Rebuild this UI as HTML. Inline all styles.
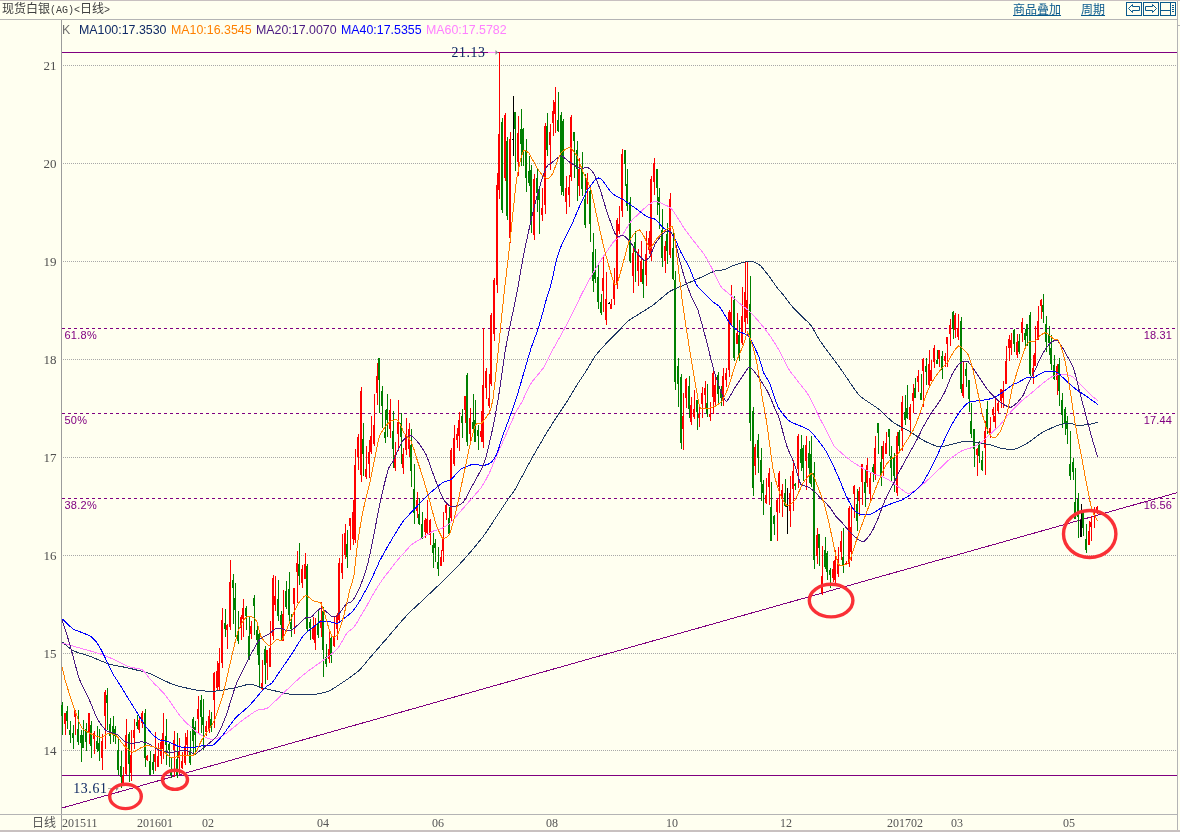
<!DOCTYPE html>
<html lang="zh"><head><meta charset="utf-8"><title>现货白银(AG) 日线</title>
<style>
html,body{margin:0;padding:0;background:#FFFFF0;}
body{width:1180px;height:832px;position:relative;overflow:hidden;font-family:"Liberation Sans","Noto Sans CJK SC",sans-serif;}
.t{position:absolute;white-space:nowrap;line-height:1;}
.title{left:2px;top:3px;font-size:12px;color:#404040;}
.title .m{font-family:"Liberation Mono",monospace;font-size:10px;}
.lnk{top:4px;font-size:12px;color:#0A5A8C;text-decoration:underline;}
.lg{top:24px;font-size:12.4px;}
</style></head><body>
<svg width="1180" height="832" viewBox="0 0 1180 832" style="position:absolute;left:0;top:0"><g shape-rendering="crispEdges"><rect x="0" y="0" width="1180" height="1" fill="#C8C0C0"/><rect x="0" y="19" width="1178" height="1" fill="#B4B4B4"/><rect x="1177" y="1" width="1" height="829" fill="#B4B4B4"/><rect x="1178" y="25" width="2" height="1" fill="#B4B4B4"/><rect x="61" y="20" width="1" height="810" fill="#9C9C9C"/><rect x="0" y="814" width="1178" height="1" fill="#B4B4B4"/><rect x="0" y="830" width="1180" height="2" fill="#C8C0C0"/><line x1="63" y1="750.5" x2="1177" y2="750.5" stroke="#A8A8A8" stroke-width="1" stroke-dasharray="1 1"/><line x1="63" y1="653.5" x2="1177" y2="653.5" stroke="#A8A8A8" stroke-width="1" stroke-dasharray="1 1"/><line x1="63" y1="555.5" x2="1177" y2="555.5" stroke="#A8A8A8" stroke-width="1" stroke-dasharray="1 1"/><line x1="63" y1="457.5" x2="1177" y2="457.5" stroke="#A8A8A8" stroke-width="1" stroke-dasharray="1 1"/><line x1="63" y1="359.5" x2="1177" y2="359.5" stroke="#A8A8A8" stroke-width="1" stroke-dasharray="1 1"/><line x1="63" y1="261.5" x2="1177" y2="261.5" stroke="#A8A8A8" stroke-width="1" stroke-dasharray="1 1"/><line x1="63" y1="163.5" x2="1177" y2="163.5" stroke="#A8A8A8" stroke-width="1" stroke-dasharray="1 1"/><line x1="63" y1="65.5" x2="1177" y2="65.5" stroke="#A8A8A8" stroke-width="1" stroke-dasharray="1 1"/><rect x="62" y="52" width="1115" height="1" fill="#800080"/><rect x="62" y="775" width="1115" height="1" fill="#800080"/><line x1="62" y1="328.5" x2="1177" y2="328.5" stroke="#800080" stroke-width="1" stroke-dasharray="3 3"/><line x1="62" y1="413.5" x2="1177" y2="413.5" stroke="#800080" stroke-width="1" stroke-dasharray="3 3"/><line x1="62" y1="498.5" x2="1177" y2="498.5" stroke="#800080" stroke-width="1" stroke-dasharray="3 3"/></g><line x1="62" y1="808" x2="1177" y2="492.7" stroke="#800080" stroke-width="1" shape-rendering="crispEdges"/><g shape-rendering="crispEdges"><rect x="62" y="702" width="1" height="33" fill="#008000"/>
<rect x="61" y="705" width="2" height="11" fill="#008000"/>
<rect x="65" y="713" width="1" height="22" fill="#FF0000"/>
<rect x="64" y="713" width="2" height="11" fill="#FF0000"/>
<rect x="67" y="706" width="1" height="23" fill="#008000"/>
<rect x="66" y="711" width="2" height="10" fill="#008000"/>
<rect x="70" y="721" width="1" height="22" fill="#008000"/>
<rect x="69" y="730" width="2" height="5" fill="#008000"/>
<rect x="73" y="725" width="1" height="24" fill="#008000"/>
<rect x="72" y="733" width="2" height="5" fill="#008000"/>
<rect x="75" y="710" width="1" height="25" fill="#FF0000"/>
<rect x="74" y="711" width="2" height="6" fill="#FF0000"/>
<rect x="78" y="710" width="1" height="35" fill="#008000"/>
<rect x="77" y="729" width="2" height="13" fill="#008000"/>
<rect x="81" y="730" width="1" height="32" fill="#008000"/>
<rect x="80" y="735" width="2" height="8" fill="#008000"/>
<rect x="83" y="720" width="1" height="28" fill="#008000"/>
<rect x="82" y="735" width="2" height="13" fill="#008000"/>
<rect x="86" y="723" width="1" height="28" fill="#008000"/>
<rect x="85" y="729" width="2" height="13" fill="#008000"/>
<rect x="89" y="713" width="1" height="31" fill="#FF0000"/>
<rect x="88" y="713" width="2" height="19" fill="#FF0000"/>
<rect x="91" y="721" width="1" height="37" fill="#008000"/>
<rect x="90" y="725" width="2" height="21" fill="#008000"/>
<rect x="94" y="731" width="1" height="23" fill="#FF0000"/>
<rect x="93" y="733" width="2" height="6" fill="#FF0000"/>
<rect x="97" y="726" width="1" height="26" fill="#008000"/>
<rect x="96" y="741" width="2" height="8" fill="#008000"/>
<rect x="99" y="729" width="1" height="32" fill="#008000"/>
<rect x="98" y="743" width="2" height="8" fill="#008000"/>
<rect x="102" y="734" width="1" height="36" fill="#FF0000"/>
<rect x="101" y="741" width="2" height="17" fill="#FF0000"/>
<rect x="105" y="690" width="1" height="59" fill="#FF0000"/>
<rect x="104" y="692" width="2" height="24" fill="#FF0000"/>
<rect x="107" y="688" width="1" height="42" fill="#008000"/>
<rect x="106" y="695" width="2" height="8" fill="#008000"/>
<rect x="110" y="718" width="1" height="26" fill="#008000"/>
<rect x="109" y="724" width="2" height="12" fill="#008000"/>
<rect x="113" y="716" width="1" height="26" fill="#008000"/>
<rect x="112" y="726" width="2" height="9" fill="#008000"/>
<rect x="115" y="726" width="1" height="18" fill="#008000"/>
<rect x="114" y="729" width="2" height="7" fill="#008000"/>
<rect x="118" y="738" width="1" height="37" fill="#008000"/>
<rect x="117" y="750" width="2" height="20" fill="#008000"/>
<rect x="121" y="751" width="1" height="37" fill="#008000"/>
<rect x="120" y="766" width="2" height="11" fill="#008000"/>
<rect x="123" y="767" width="1" height="17" fill="#FF0000"/>
<rect x="122" y="776" width="2" height="7" fill="#FF0000"/>
<rect x="126" y="719" width="1" height="56" fill="#FF0000"/>
<rect x="125" y="735" width="2" height="39" fill="#FF0000"/>
<rect x="129" y="732" width="1" height="50" fill="#008000"/>
<rect x="128" y="734" width="2" height="30" fill="#008000"/>
<rect x="131" y="730" width="1" height="51" fill="#FF0000"/>
<rect x="130" y="755" width="2" height="18" fill="#FF0000"/>
<rect x="134" y="719" width="1" height="30" fill="#FF0000"/>
<rect x="133" y="730" width="2" height="8" fill="#FF0000"/>
<rect x="137" y="715" width="1" height="14" fill="#008000"/>
<rect x="136" y="722" width="2" height="4" fill="#008000"/>
<rect x="139" y="716" width="1" height="17" fill="#FF0000"/>
<rect x="138" y="720" width="2" height="10" fill="#FF0000"/>
<rect x="142" y="711" width="1" height="17" fill="#FF0000"/>
<rect x="141" y="713" width="2" height="10" fill="#FF0000"/>
<rect x="145" y="709" width="1" height="58" fill="#008000"/>
<rect x="144" y="713" width="2" height="45" fill="#008000"/>
<rect x="147" y="755" width="1" height="6" fill="#FF0000"/>
<rect x="146" y="756" width="2" height="4" fill="#FF0000"/>
<rect x="150" y="751" width="1" height="24" fill="#008000"/>
<rect x="149" y="761" width="2" height="14" fill="#008000"/>
<rect x="153" y="754" width="1" height="20" fill="#008000"/>
<rect x="152" y="762" width="2" height="8" fill="#008000"/>
<rect x="155" y="732" width="1" height="39" fill="#FF0000"/>
<rect x="154" y="754" width="2" height="8" fill="#FF0000"/>
<rect x="158" y="743" width="1" height="24" fill="#FF0000"/>
<rect x="157" y="756" width="2" height="11" fill="#FF0000"/>
<rect x="161" y="739" width="1" height="25" fill="#FF0000"/>
<rect x="160" y="742" width="2" height="14" fill="#FF0000"/>
<rect x="163" y="713" width="1" height="46" fill="#FF0000"/>
<rect x="162" y="733" width="2" height="16" fill="#FF0000"/>
<rect x="166" y="719" width="1" height="46" fill="#008000"/>
<rect x="165" y="736" width="2" height="9" fill="#008000"/>
<rect x="169" y="742" width="1" height="25" fill="#008000"/>
<rect x="168" y="744" width="2" height="6" fill="#008000"/>
<rect x="171" y="758" width="1" height="20" fill="#008000"/>
<rect x="170" y="770" width="2" height="5" fill="#008000"/>
<rect x="174" y="731" width="1" height="46" fill="#FF0000"/>
<rect x="173" y="740" width="2" height="10" fill="#FF0000"/>
<rect x="177" y="733" width="1" height="45" fill="#008000"/>
<rect x="176" y="759" width="2" height="16" fill="#008000"/>
<rect x="179" y="738" width="1" height="36" fill="#FF0000"/>
<rect x="178" y="751" width="2" height="7" fill="#FF0000"/>
<rect x="182" y="752" width="1" height="17" fill="#FF0000"/>
<rect x="181" y="761" width="2" height="7" fill="#FF0000"/>
<rect x="185" y="733" width="1" height="32" fill="#FF0000"/>
<rect x="184" y="746" width="2" height="17" fill="#FF0000"/>
<rect x="187" y="730" width="1" height="25" fill="#FF0000"/>
<rect x="186" y="737" width="2" height="8" fill="#FF0000"/>
<rect x="190" y="731" width="1" height="34" fill="#008000"/>
<rect x="189" y="751" width="2" height="12" fill="#008000"/>
<rect x="193" y="717" width="1" height="36" fill="#008000"/>
<rect x="192" y="719" width="2" height="22" fill="#008000"/>
<rect x="195" y="721" width="1" height="34" fill="#008000"/>
<rect x="194" y="727" width="2" height="8" fill="#008000"/>
<rect x="198" y="696" width="1" height="37" fill="#FF0000"/>
<rect x="197" y="709" width="2" height="10" fill="#FF0000"/>
<rect x="201" y="695" width="1" height="38" fill="#008000"/>
<rect x="200" y="700" width="2" height="17" fill="#008000"/>
<rect x="203" y="699" width="1" height="51" fill="#008000"/>
<rect x="202" y="717" width="2" height="8" fill="#008000"/>
<rect x="206" y="721" width="1" height="15" fill="#FF0000"/>
<rect x="205" y="726" width="2" height="6" fill="#FF0000"/>
<rect x="209" y="710" width="1" height="23" fill="#FF0000"/>
<rect x="208" y="716" width="2" height="15" fill="#FF0000"/>
<rect x="211" y="712" width="1" height="20" fill="#008000"/>
<rect x="210" y="719" width="2" height="9" fill="#008000"/>
<rect x="214" y="672" width="1" height="56" fill="#FF0000"/>
<rect x="213" y="673" width="2" height="27" fill="#FF0000"/>
<rect x="217" y="661" width="1" height="29" fill="#FF0000"/>
<rect x="216" y="671" width="2" height="17" fill="#FF0000"/>
<rect x="219" y="648" width="1" height="42" fill="#FF0000"/>
<rect x="218" y="663" width="2" height="24" fill="#FF0000"/>
<rect x="222" y="608" width="1" height="60" fill="#FF0000"/>
<rect x="221" y="620" width="2" height="43" fill="#FF0000"/>
<rect x="225" y="609" width="1" height="28" fill="#008000"/>
<rect x="224" y="623" width="2" height="6" fill="#008000"/>
<rect x="227" y="624" width="1" height="25" fill="#FF0000"/>
<rect x="226" y="625" width="2" height="5" fill="#FF0000"/>
<rect x="230" y="560" width="1" height="70" fill="#FF0000"/>
<rect x="229" y="582" width="2" height="45" fill="#FF0000"/>
<rect x="233" y="574" width="1" height="50" fill="#008000"/>
<rect x="232" y="580" width="2" height="8" fill="#008000"/>
<rect x="235" y="583" width="1" height="54" fill="#008000"/>
<rect x="234" y="598" width="2" height="12" fill="#008000"/>
<rect x="238" y="611" width="1" height="33" fill="#008000"/>
<rect x="237" y="635" width="2" height="6" fill="#008000"/>
<rect x="241" y="615" width="1" height="25" fill="#FF0000"/>
<rect x="240" y="617" width="2" height="11" fill="#FF0000"/>
<rect x="243" y="599" width="1" height="38" fill="#FF0000"/>
<rect x="242" y="608" width="2" height="11" fill="#FF0000"/>
<rect x="246" y="606" width="1" height="24" fill="#008000"/>
<rect x="245" y="608" width="2" height="8" fill="#008000"/>
<rect x="249" y="617" width="1" height="43" fill="#008000"/>
<rect x="248" y="636" width="2" height="24" fill="#008000"/>
<rect x="251" y="621" width="1" height="18" fill="#FF0000"/>
<rect x="250" y="626" width="2" height="8" fill="#FF0000"/>
<rect x="254" y="595" width="1" height="40" fill="#008000"/>
<rect x="253" y="598" width="2" height="8" fill="#008000"/>
<rect x="257" y="625" width="1" height="30" fill="#008000"/>
<rect x="256" y="630" width="2" height="10" fill="#008000"/>
<rect x="259" y="630" width="1" height="57" fill="#008000"/>
<rect x="258" y="634" width="2" height="31" fill="#008000"/>
<rect x="262" y="660" width="1" height="30" fill="#FF0000"/>
<rect x="261" y="683" width="2" height="6" fill="#FF0000"/>
<rect x="265" y="646" width="1" height="38" fill="#008000"/>
<rect x="264" y="649" width="2" height="16" fill="#008000"/>
<rect x="267" y="650" width="1" height="30" fill="#FF0000"/>
<rect x="266" y="650" width="2" height="13" fill="#FF0000"/>
<rect x="270" y="621" width="1" height="46" fill="#FF0000"/>
<rect x="269" y="648" width="2" height="19" fill="#FF0000"/>
<rect x="273" y="575" width="1" height="65" fill="#FF0000"/>
<rect x="272" y="578" width="2" height="58" fill="#FF0000"/>
<rect x="275" y="576" width="1" height="35" fill="#FF0000"/>
<rect x="274" y="596" width="2" height="9" fill="#FF0000"/>
<rect x="278" y="580" width="1" height="41" fill="#008000"/>
<rect x="277" y="599" width="2" height="17" fill="#008000"/>
<rect x="281" y="611" width="1" height="29" fill="#008000"/>
<rect x="280" y="615" width="2" height="10" fill="#008000"/>
<rect x="283" y="590" width="1" height="51" fill="#FF0000"/>
<rect x="282" y="614" width="2" height="27" fill="#FF0000"/>
<rect x="286" y="581" width="1" height="28" fill="#008000"/>
<rect x="285" y="591" width="2" height="16" fill="#008000"/>
<rect x="289" y="572" width="1" height="49" fill="#008000"/>
<rect x="288" y="589" width="2" height="26" fill="#008000"/>
<rect x="291" y="614" width="1" height="23" fill="#008000"/>
<rect x="290" y="622" width="2" height="7" fill="#008000"/>
<rect x="294" y="588" width="1" height="46" fill="#FF0000"/>
<rect x="293" y="588" width="2" height="16" fill="#FF0000"/>
<rect x="297" y="551" width="1" height="52" fill="#FF0000"/>
<rect x="296" y="563" width="2" height="9" fill="#FF0000"/>
<rect x="299" y="543" width="1" height="42" fill="#008000"/>
<rect x="298" y="564" width="2" height="12" fill="#008000"/>
<rect x="302" y="565" width="1" height="23" fill="#FF0000"/>
<rect x="301" y="569" width="2" height="14" fill="#FF0000"/>
<rect x="305" y="553" width="1" height="26" fill="#FF0000"/>
<rect x="304" y="564" width="2" height="15" fill="#FF0000"/>
<rect x="307" y="564" width="1" height="67" fill="#008000"/>
<rect x="306" y="566" width="2" height="63" fill="#008000"/>
<rect x="310" y="619" width="1" height="21" fill="#008000"/>
<rect x="309" y="622" width="2" height="6" fill="#008000"/>
<rect x="313" y="617" width="1" height="23" fill="#FF0000"/>
<rect x="312" y="628" width="2" height="11" fill="#FF0000"/>
<rect x="315" y="618" width="1" height="32" fill="#FF0000"/>
<rect x="314" y="625" width="2" height="18" fill="#FF0000"/>
<rect x="318" y="611" width="1" height="27" fill="#008000"/>
<rect x="317" y="623" width="2" height="12" fill="#008000"/>
<rect x="321" y="602" width="1" height="35" fill="#FF0000"/>
<rect x="320" y="620" width="2" height="8" fill="#FF0000"/>
<rect x="323" y="607" width="1" height="70" fill="#008000"/>
<rect x="322" y="611" width="2" height="39" fill="#008000"/>
<rect x="326" y="644" width="1" height="23" fill="#008000"/>
<rect x="325" y="657" width="2" height="7" fill="#008000"/>
<rect x="329" y="632" width="1" height="31" fill="#FF0000"/>
<rect x="328" y="649" width="2" height="10" fill="#FF0000"/>
<rect x="331" y="634" width="1" height="29" fill="#008000"/>
<rect x="330" y="638" width="2" height="18" fill="#008000"/>
<rect x="334" y="617" width="1" height="30" fill="#FF0000"/>
<rect x="333" y="636" width="2" height="10" fill="#FF0000"/>
<rect x="337" y="613" width="1" height="27" fill="#FF0000"/>
<rect x="336" y="615" width="2" height="14" fill="#FF0000"/>
<rect x="339" y="558" width="1" height="63" fill="#FF0000"/>
<rect x="338" y="563" width="2" height="57" fill="#FF0000"/>
<rect x="342" y="534" width="1" height="45" fill="#FF0000"/>
<rect x="341" y="563" width="2" height="10" fill="#FF0000"/>
<rect x="345" y="524" width="1" height="35" fill="#FF0000"/>
<rect x="344" y="533" width="2" height="22" fill="#FF0000"/>
<rect x="347" y="530" width="1" height="38" fill="#008000"/>
<rect x="346" y="544" width="2" height="13" fill="#008000"/>
<rect x="350" y="518" width="1" height="32" fill="#FF0000"/>
<rect x="349" y="518" width="2" height="8" fill="#FF0000"/>
<rect x="353" y="500" width="1" height="45" fill="#FF0000"/>
<rect x="352" y="512" width="2" height="27" fill="#FF0000"/>
<rect x="355" y="449" width="1" height="94" fill="#FF0000"/>
<rect x="354" y="465" width="2" height="75" fill="#FF0000"/>
<rect x="358" y="434" width="1" height="36" fill="#FF0000"/>
<rect x="357" y="437" width="2" height="20" fill="#FF0000"/>
<rect x="361" y="387" width="1" height="95" fill="#FF0000"/>
<rect x="360" y="391" width="2" height="84" fill="#FF0000"/>
<rect x="363" y="423" width="1" height="53" fill="#008000"/>
<rect x="362" y="439" width="2" height="15" fill="#008000"/>
<rect x="366" y="446" width="1" height="33" fill="#FF0000"/>
<rect x="365" y="469" width="2" height="8" fill="#FF0000"/>
<rect x="369" y="440" width="1" height="38" fill="#FF0000"/>
<rect x="368" y="452" width="2" height="12" fill="#FF0000"/>
<rect x="371" y="416" width="1" height="38" fill="#FF0000"/>
<rect x="370" y="436" width="2" height="16" fill="#FF0000"/>
<rect x="374" y="394" width="1" height="52" fill="#FF0000"/>
<rect x="373" y="425" width="2" height="19" fill="#FF0000"/>
<rect x="377" y="363" width="1" height="42" fill="#FF0000"/>
<rect x="376" y="376" width="2" height="17" fill="#FF0000"/>
<rect x="379" y="358" width="1" height="55" fill="#008000"/>
<rect x="378" y="358" width="2" height="22" fill="#008000"/>
<rect x="382" y="386" width="1" height="42" fill="#008000"/>
<rect x="381" y="391" width="2" height="15" fill="#008000"/>
<rect x="385" y="410" width="1" height="33" fill="#008000"/>
<rect x="384" y="432" width="2" height="6" fill="#008000"/>
<rect x="387" y="394" width="1" height="43" fill="#008000"/>
<rect x="386" y="409" width="2" height="11" fill="#008000"/>
<rect x="390" y="399" width="1" height="39" fill="#FF0000"/>
<rect x="389" y="410" width="2" height="19" fill="#FF0000"/>
<rect x="393" y="411" width="1" height="57" fill="#008000"/>
<rect x="392" y="431" width="2" height="18" fill="#008000"/>
<rect x="395" y="442" width="1" height="29" fill="#FF0000"/>
<rect x="394" y="455" width="2" height="13" fill="#FF0000"/>
<rect x="398" y="400" width="1" height="51" fill="#FF0000"/>
<rect x="397" y="422" width="2" height="12" fill="#FF0000"/>
<rect x="401" y="413" width="1" height="51" fill="#008000"/>
<rect x="400" y="423" width="2" height="14" fill="#008000"/>
<rect x="403" y="448" width="1" height="26" fill="#FF0000"/>
<rect x="402" y="454" width="2" height="14" fill="#FF0000"/>
<rect x="406" y="418" width="1" height="37" fill="#FF0000"/>
<rect x="405" y="434" width="2" height="16" fill="#FF0000"/>
<rect x="409" y="423" width="1" height="34" fill="#FF0000"/>
<rect x="408" y="429" width="2" height="20" fill="#FF0000"/>
<rect x="411" y="429" width="1" height="58" fill="#008000"/>
<rect x="410" y="445" width="2" height="26" fill="#008000"/>
<rect x="414" y="464" width="1" height="60" fill="#008000"/>
<rect x="413" y="489" width="2" height="24" fill="#008000"/>
<rect x="417" y="492" width="1" height="26" fill="#FF0000"/>
<rect x="416" y="500" width="2" height="11" fill="#FF0000"/>
<rect x="419" y="498" width="1" height="27" fill="#008000"/>
<rect x="418" y="514" width="2" height="10" fill="#008000"/>
<rect x="422" y="512" width="1" height="27" fill="#008000"/>
<rect x="421" y="524" width="2" height="14" fill="#008000"/>
<rect x="425" y="518" width="1" height="20" fill="#FF0000"/>
<rect x="424" y="520" width="2" height="12" fill="#FF0000"/>
<rect x="427" y="500" width="1" height="34" fill="#FF0000"/>
<rect x="426" y="519" width="2" height="14" fill="#FF0000"/>
<rect x="430" y="519" width="1" height="26" fill="#FF0000"/>
<rect x="429" y="520" width="2" height="15" fill="#FF0000"/>
<rect x="433" y="533" width="1" height="35" fill="#008000"/>
<rect x="432" y="545" width="2" height="8" fill="#008000"/>
<rect x="435" y="539" width="1" height="23" fill="#008000"/>
<rect x="434" y="543" width="2" height="5" fill="#008000"/>
<rect x="438" y="547" width="1" height="29" fill="#008000"/>
<rect x="437" y="562" width="2" height="7" fill="#008000"/>
<rect x="441" y="550" width="1" height="16" fill="#FF0000"/>
<rect x="440" y="557" width="2" height="9" fill="#FF0000"/>
<rect x="443" y="512" width="1" height="50" fill="#FF0000"/>
<rect x="442" y="539" width="2" height="12" fill="#FF0000"/>
<rect x="446" y="504" width="1" height="16" fill="#FF0000"/>
<rect x="445" y="505" width="2" height="8" fill="#FF0000"/>
<rect x="449" y="507" width="1" height="27" fill="#008000"/>
<rect x="448" y="518" width="2" height="16" fill="#008000"/>
<rect x="451" y="448" width="1" height="73" fill="#FF0000"/>
<rect x="450" y="450" width="2" height="68" fill="#FF0000"/>
<rect x="454" y="425" width="1" height="41" fill="#FF0000"/>
<rect x="453" y="438" width="2" height="26" fill="#FF0000"/>
<rect x="457" y="428" width="1" height="20" fill="#FF0000"/>
<rect x="456" y="434" width="2" height="6" fill="#FF0000"/>
<rect x="459" y="412" width="1" height="39" fill="#FF0000"/>
<rect x="458" y="420" width="2" height="16" fill="#FF0000"/>
<rect x="462" y="409" width="1" height="29" fill="#008000"/>
<rect x="461" y="416" width="2" height="7" fill="#008000"/>
<rect x="465" y="396" width="1" height="27" fill="#FF0000"/>
<rect x="464" y="396" width="2" height="14" fill="#FF0000"/>
<rect x="467" y="373" width="1" height="73" fill="#008000"/>
<rect x="466" y="375" width="2" height="67" fill="#008000"/>
<rect x="470" y="408" width="1" height="35" fill="#FF0000"/>
<rect x="469" y="418" width="2" height="16" fill="#FF0000"/>
<rect x="473" y="394" width="1" height="35" fill="#008000"/>
<rect x="472" y="422" width="2" height="7" fill="#008000"/>
<rect x="475" y="400" width="1" height="42" fill="#008000"/>
<rect x="474" y="420" width="2" height="22" fill="#008000"/>
<rect x="478" y="425" width="1" height="25" fill="#008000"/>
<rect x="477" y="430" width="2" height="6" fill="#008000"/>
<rect x="481" y="411" width="1" height="31" fill="#FF0000"/>
<rect x="480" y="431" width="2" height="6" fill="#FF0000"/>
<rect x="483" y="328" width="1" height="120" fill="#FF0000"/>
<rect x="482" y="385" width="2" height="57" fill="#FF0000"/>
<rect x="486" y="368" width="1" height="31" fill="#FF0000"/>
<rect x="485" y="371" width="2" height="17" fill="#FF0000"/>
<rect x="489" y="374" width="1" height="34" fill="#FF0000"/>
<rect x="488" y="398" width="2" height="8" fill="#FF0000"/>
<rect x="491" y="313" width="1" height="73" fill="#FF0000"/>
<rect x="490" y="315" width="2" height="69" fill="#FF0000"/>
<rect x="494" y="278" width="1" height="63" fill="#FF0000"/>
<rect x="493" y="280" width="2" height="54" fill="#FF0000"/>
<rect x="497" y="173" width="1" height="120" fill="#FF0000"/>
<rect x="496" y="185" width="2" height="100" fill="#FF0000"/>
<rect x="499" y="52" width="1" height="147" fill="#FF0000"/>
<rect x="498" y="134" width="2" height="56" fill="#FF0000"/>
<rect x="502" y="118" width="1" height="95" fill="#008000"/>
<rect x="501" y="122" width="2" height="88" fill="#008000"/>
<rect x="505" y="113" width="1" height="68" fill="#FF0000"/>
<rect x="504" y="115" width="2" height="63" fill="#FF0000"/>
<rect x="507" y="137" width="1" height="83" fill="#008000"/>
<rect x="506" y="141" width="2" height="75" fill="#008000"/>
<rect x="510" y="132" width="1" height="111" fill="#FF0000"/>
<rect x="509" y="139" width="2" height="99" fill="#FF0000"/>
<rect x="513" y="96" width="1" height="60" fill="#000000"/>
<rect x="512" y="139" width="2" height="1" fill="#000000"/>
<rect x="515" y="112" width="1" height="59" fill="#008000"/>
<rect x="514" y="112" width="2" height="17" fill="#008000"/>
<rect x="518" y="116" width="1" height="60" fill="#FF0000"/>
<rect x="517" y="133" width="2" height="29" fill="#FF0000"/>
<rect x="521" y="109" width="1" height="57" fill="#008000"/>
<rect x="520" y="129" width="2" height="15" fill="#008000"/>
<rect x="523" y="128" width="1" height="38" fill="#008000"/>
<rect x="522" y="129" width="2" height="23" fill="#008000"/>
<rect x="526" y="139" width="1" height="53" fill="#008000"/>
<rect x="525" y="150" width="2" height="28" fill="#008000"/>
<rect x="529" y="156" width="1" height="30" fill="#008000"/>
<rect x="528" y="171" width="2" height="12" fill="#008000"/>
<rect x="531" y="165" width="1" height="68" fill="#008000"/>
<rect x="530" y="170" width="2" height="55" fill="#008000"/>
<rect x="534" y="174" width="1" height="66" fill="#FF0000"/>
<rect x="533" y="179" width="2" height="56" fill="#FF0000"/>
<rect x="537" y="168" width="1" height="44" fill="#008000"/>
<rect x="536" y="178" width="2" height="15" fill="#008000"/>
<rect x="539" y="186" width="1" height="48" fill="#008000"/>
<rect x="538" y="191" width="2" height="9" fill="#008000"/>
<rect x="542" y="188" width="1" height="33" fill="#FF0000"/>
<rect x="541" y="208" width="2" height="7" fill="#FF0000"/>
<rect x="545" y="123" width="1" height="91" fill="#FF0000"/>
<rect x="544" y="126" width="2" height="79" fill="#FF0000"/>
<rect x="547" y="113" width="1" height="43" fill="#008000"/>
<rect x="546" y="126" width="2" height="24" fill="#008000"/>
<rect x="550" y="124" width="1" height="46" fill="#FF0000"/>
<rect x="549" y="132" width="2" height="13" fill="#FF0000"/>
<rect x="553" y="100" width="1" height="36" fill="#FF0000"/>
<rect x="552" y="111" width="2" height="12" fill="#FF0000"/>
<rect x="555" y="87" width="1" height="46" fill="#FF0000"/>
<rect x="554" y="102" width="2" height="12" fill="#FF0000"/>
<rect x="558" y="92" width="1" height="40" fill="#008000"/>
<rect x="557" y="120" width="2" height="11" fill="#008000"/>
<rect x="561" y="112" width="1" height="83" fill="#008000"/>
<rect x="560" y="115" width="2" height="71" fill="#008000"/>
<rect x="563" y="119" width="1" height="77" fill="#008000"/>
<rect x="562" y="121" width="2" height="71" fill="#008000"/>
<rect x="566" y="176" width="1" height="38" fill="#FF0000"/>
<rect x="565" y="188" width="2" height="14" fill="#FF0000"/>
<rect x="569" y="175" width="1" height="32" fill="#FF0000"/>
<rect x="568" y="187" width="2" height="8" fill="#FF0000"/>
<rect x="571" y="115" width="1" height="66" fill="#FF0000"/>
<rect x="570" y="117" width="2" height="60" fill="#FF0000"/>
<rect x="574" y="132" width="1" height="46" fill="#008000"/>
<rect x="573" y="132" width="2" height="9" fill="#008000"/>
<rect x="577" y="141" width="1" height="60" fill="#008000"/>
<rect x="576" y="150" width="2" height="19" fill="#008000"/>
<rect x="579" y="158" width="1" height="38" fill="#FF0000"/>
<rect x="578" y="169" width="2" height="17" fill="#FF0000"/>
<rect x="582" y="152" width="1" height="44" fill="#008000"/>
<rect x="581" y="166" width="2" height="23" fill="#008000"/>
<rect x="585" y="174" width="1" height="54" fill="#008000"/>
<rect x="584" y="199" width="2" height="26" fill="#008000"/>
<rect x="587" y="173" width="1" height="31" fill="#FF0000"/>
<rect x="586" y="179" width="2" height="11" fill="#FF0000"/>
<rect x="590" y="188" width="1" height="54" fill="#008000"/>
<rect x="589" y="191" width="2" height="33" fill="#008000"/>
<rect x="593" y="233" width="1" height="59" fill="#008000"/>
<rect x="592" y="252" width="2" height="29" fill="#008000"/>
<rect x="595" y="249" width="1" height="34" fill="#008000"/>
<rect x="594" y="272" width="2" height="7" fill="#008000"/>
<rect x="598" y="265" width="1" height="44" fill="#008000"/>
<rect x="597" y="277" width="2" height="25" fill="#008000"/>
<rect x="601" y="294" width="1" height="21" fill="#008000"/>
<rect x="600" y="302" width="2" height="11" fill="#008000"/>
<rect x="603" y="255" width="1" height="57" fill="#FF0000"/>
<rect x="602" y="278" width="2" height="13" fill="#FF0000"/>
<rect x="606" y="272" width="1" height="53" fill="#FF0000"/>
<rect x="605" y="299" width="2" height="21" fill="#FF0000"/>
<rect x="609" y="302" width="1" height="2" fill="#000000"/>
<rect x="608" y="303" width="2" height="1" fill="#000000"/>
<rect x="611" y="299" width="1" height="10" fill="#FF0000"/>
<rect x="610" y="304" width="2" height="5" fill="#FF0000"/>
<rect x="614" y="268" width="1" height="37" fill="#FF0000"/>
<rect x="613" y="281" width="2" height="18" fill="#FF0000"/>
<rect x="617" y="218" width="1" height="71" fill="#FF0000"/>
<rect x="616" y="220" width="2" height="65" fill="#FF0000"/>
<rect x="619" y="206" width="1" height="28" fill="#FF0000"/>
<rect x="618" y="224" width="2" height="7" fill="#FF0000"/>
<rect x="622" y="149" width="1" height="68" fill="#FF0000"/>
<rect x="621" y="154" width="2" height="57" fill="#FF0000"/>
<rect x="625" y="150" width="1" height="36" fill="#008000"/>
<rect x="624" y="150" width="2" height="14" fill="#008000"/>
<rect x="627" y="169" width="1" height="42" fill="#008000"/>
<rect x="626" y="184" width="2" height="22" fill="#008000"/>
<rect x="630" y="197" width="1" height="66" fill="#008000"/>
<rect x="629" y="202" width="2" height="59" fill="#008000"/>
<rect x="633" y="248" width="1" height="45" fill="#FF0000"/>
<rect x="632" y="253" width="2" height="23" fill="#FF0000"/>
<rect x="635" y="231" width="1" height="51" fill="#008000"/>
<rect x="634" y="242" width="2" height="10" fill="#008000"/>
<rect x="638" y="249" width="1" height="37" fill="#FF0000"/>
<rect x="637" y="252" width="2" height="19" fill="#FF0000"/>
<rect x="641" y="241" width="1" height="41" fill="#FF0000"/>
<rect x="640" y="261" width="2" height="21" fill="#FF0000"/>
<rect x="643" y="260" width="1" height="38" fill="#008000"/>
<rect x="642" y="269" width="2" height="15" fill="#008000"/>
<rect x="646" y="231" width="1" height="55" fill="#FF0000"/>
<rect x="645" y="254" width="2" height="21" fill="#FF0000"/>
<rect x="649" y="231" width="1" height="23" fill="#FF0000"/>
<rect x="648" y="238" width="2" height="12" fill="#FF0000"/>
<rect x="651" y="176" width="1" height="85" fill="#FF0000"/>
<rect x="650" y="179" width="2" height="78" fill="#FF0000"/>
<rect x="654" y="158" width="1" height="37" fill="#FF0000"/>
<rect x="653" y="163" width="2" height="19" fill="#FF0000"/>
<rect x="657" y="169" width="1" height="46" fill="#008000"/>
<rect x="656" y="169" width="2" height="19" fill="#008000"/>
<rect x="659" y="188" width="1" height="41" fill="#008000"/>
<rect x="658" y="197" width="2" height="8" fill="#008000"/>
<rect x="662" y="209" width="1" height="58" fill="#008000"/>
<rect x="661" y="230" width="2" height="28" fill="#008000"/>
<rect x="665" y="241" width="1" height="32" fill="#FF0000"/>
<rect x="664" y="246" width="2" height="15" fill="#FF0000"/>
<rect x="667" y="223" width="1" height="41" fill="#008000"/>
<rect x="666" y="234" width="2" height="17" fill="#008000"/>
<rect x="670" y="193" width="1" height="65" fill="#FF0000"/>
<rect x="669" y="199" width="2" height="56" fill="#FF0000"/>
<rect x="673" y="229" width="1" height="51" fill="#008000"/>
<rect x="672" y="248" width="2" height="31" fill="#008000"/>
<rect x="675" y="271" width="1" height="119" fill="#008000"/>
<rect x="674" y="280" width="2" height="102" fill="#008000"/>
<rect x="678" y="358" width="1" height="49" fill="#008000"/>
<rect x="677" y="366" width="2" height="18" fill="#008000"/>
<rect x="681" y="374" width="1" height="75" fill="#008000"/>
<rect x="680" y="377" width="2" height="66" fill="#008000"/>
<rect x="683" y="393" width="1" height="57" fill="#FF0000"/>
<rect x="682" y="416" width="2" height="13" fill="#FF0000"/>
<rect x="686" y="378" width="1" height="30" fill="#FF0000"/>
<rect x="685" y="379" width="2" height="19" fill="#FF0000"/>
<rect x="689" y="376" width="1" height="42" fill="#008000"/>
<rect x="688" y="386" width="2" height="23" fill="#008000"/>
<rect x="691" y="397" width="1" height="28" fill="#FF0000"/>
<rect x="690" y="405" width="2" height="17" fill="#FF0000"/>
<rect x="694" y="390" width="1" height="29" fill="#FF0000"/>
<rect x="693" y="409" width="2" height="8" fill="#FF0000"/>
<rect x="697" y="400" width="1" height="30" fill="#008000"/>
<rect x="696" y="400" width="2" height="12" fill="#008000"/>
<rect x="699" y="405" width="1" height="22" fill="#FF0000"/>
<rect x="698" y="414" width="2" height="4" fill="#FF0000"/>
<rect x="702" y="387" width="1" height="31" fill="#FF0000"/>
<rect x="701" y="393" width="2" height="11" fill="#FF0000"/>
<rect x="705" y="381" width="1" height="27" fill="#FF0000"/>
<rect x="704" y="388" width="2" height="7" fill="#FF0000"/>
<rect x="707" y="384" width="1" height="33" fill="#008000"/>
<rect x="706" y="403" width="2" height="11" fill="#008000"/>
<rect x="710" y="402" width="1" height="19" fill="#FF0000"/>
<rect x="709" y="414" width="2" height="3" fill="#FF0000"/>
<rect x="713" y="371" width="1" height="43" fill="#FF0000"/>
<rect x="712" y="373" width="2" height="24" fill="#FF0000"/>
<rect x="715" y="377" width="1" height="28" fill="#FF0000"/>
<rect x="714" y="385" width="2" height="17" fill="#FF0000"/>
<rect x="718" y="372" width="1" height="31" fill="#008000"/>
<rect x="717" y="375" width="2" height="19" fill="#008000"/>
<rect x="721" y="386" width="1" height="20" fill="#008000"/>
<rect x="720" y="391" width="2" height="7" fill="#008000"/>
<rect x="723" y="368" width="1" height="38" fill="#FF0000"/>
<rect x="722" y="376" width="2" height="24" fill="#FF0000"/>
<rect x="726" y="368" width="1" height="19" fill="#FF0000"/>
<rect x="725" y="373" width="2" height="7" fill="#FF0000"/>
<rect x="729" y="310" width="1" height="67" fill="#FF0000"/>
<rect x="728" y="312" width="2" height="58" fill="#FF0000"/>
<rect x="731" y="285" width="1" height="41" fill="#FF0000"/>
<rect x="730" y="312" width="2" height="13" fill="#FF0000"/>
<rect x="734" y="296" width="1" height="65" fill="#008000"/>
<rect x="733" y="300" width="2" height="58" fill="#008000"/>
<rect x="737" y="313" width="1" height="31" fill="#FF0000"/>
<rect x="736" y="333" width="2" height="11" fill="#FF0000"/>
<rect x="739" y="320" width="1" height="41" fill="#008000"/>
<rect x="738" y="335" width="2" height="23" fill="#008000"/>
<rect x="742" y="287" width="1" height="58" fill="#FF0000"/>
<rect x="741" y="316" width="2" height="27" fill="#FF0000"/>
<rect x="745" y="261" width="1" height="72" fill="#FF0000"/>
<rect x="744" y="292" width="2" height="30" fill="#FF0000"/>
<rect x="747" y="261" width="1" height="63" fill="#FF0000"/>
<rect x="746" y="300" width="2" height="18" fill="#FF0000"/>
<rect x="750" y="276" width="1" height="165" fill="#008000"/>
<rect x="749" y="304" width="2" height="119" fill="#008000"/>
<rect x="753" y="407" width="1" height="89" fill="#008000"/>
<rect x="752" y="411" width="2" height="77" fill="#008000"/>
<rect x="755" y="444" width="1" height="31" fill="#FF0000"/>
<rect x="754" y="447" width="2" height="19" fill="#FF0000"/>
<rect x="758" y="434" width="1" height="39" fill="#008000"/>
<rect x="757" y="440" width="2" height="18" fill="#008000"/>
<rect x="761" y="448" width="1" height="53" fill="#008000"/>
<rect x="760" y="460" width="2" height="22" fill="#008000"/>
<rect x="763" y="480" width="1" height="35" fill="#008000"/>
<rect x="762" y="484" width="2" height="9" fill="#008000"/>
<rect x="766" y="478" width="1" height="26" fill="#FF0000"/>
<rect x="765" y="495" width="2" height="8" fill="#FF0000"/>
<rect x="769" y="468" width="1" height="37" fill="#FF0000"/>
<rect x="768" y="473" width="2" height="14" fill="#FF0000"/>
<rect x="771" y="482" width="1" height="59" fill="#008000"/>
<rect x="770" y="507" width="2" height="34" fill="#008000"/>
<rect x="774" y="515" width="1" height="20" fill="#008000"/>
<rect x="773" y="516" width="2" height="8" fill="#008000"/>
<rect x="777" y="498" width="1" height="43" fill="#FF0000"/>
<rect x="776" y="500" width="2" height="12" fill="#FF0000"/>
<rect x="779" y="471" width="1" height="42" fill="#FF0000"/>
<rect x="778" y="473" width="2" height="14" fill="#FF0000"/>
<rect x="782" y="484" width="1" height="33" fill="#FF0000"/>
<rect x="781" y="490" width="2" height="9" fill="#FF0000"/>
<rect x="785" y="479" width="1" height="28" fill="#008000"/>
<rect x="784" y="493" width="2" height="13" fill="#008000"/>
<rect x="787" y="488" width="1" height="46" fill="#000000"/>
<rect x="786" y="506" width="2" height="1" fill="#000000"/>
<rect x="790" y="476" width="1" height="51" fill="#FF0000"/>
<rect x="789" y="493" width="2" height="18" fill="#FF0000"/>
<rect x="793" y="460" width="1" height="51" fill="#FF0000"/>
<rect x="792" y="471" width="2" height="18" fill="#FF0000"/>
<rect x="795" y="483" width="1" height="7" fill="#008000"/>
<rect x="794" y="484" width="2" height="2" fill="#008000"/>
<rect x="798" y="434" width="1" height="54" fill="#FF0000"/>
<rect x="797" y="436" width="2" height="33" fill="#FF0000"/>
<rect x="801" y="435" width="1" height="36" fill="#008000"/>
<rect x="800" y="449" width="2" height="14" fill="#008000"/>
<rect x="803" y="445" width="1" height="36" fill="#008000"/>
<rect x="802" y="448" width="2" height="20" fill="#008000"/>
<rect x="806" y="436" width="1" height="54" fill="#FF0000"/>
<rect x="805" y="445" width="2" height="16" fill="#FF0000"/>
<rect x="809" y="441" width="1" height="42" fill="#008000"/>
<rect x="808" y="453" width="2" height="15" fill="#008000"/>
<rect x="811" y="436" width="1" height="51" fill="#008000"/>
<rect x="810" y="454" width="2" height="30" fill="#008000"/>
<rect x="814" y="462" width="1" height="107" fill="#008000"/>
<rect x="813" y="473" width="2" height="87" fill="#008000"/>
<rect x="817" y="528" width="1" height="36" fill="#FF0000"/>
<rect x="816" y="535" width="2" height="21" fill="#FF0000"/>
<rect x="819" y="534" width="1" height="32" fill="#008000"/>
<rect x="818" y="534" width="2" height="14" fill="#008000"/>
<rect x="822" y="546" width="1" height="49" fill="#FF0000"/>
<rect x="821" y="576" width="2" height="17" fill="#FF0000"/>
<rect x="825" y="537" width="1" height="32" fill="#008000"/>
<rect x="824" y="550" width="2" height="17" fill="#008000"/>
<rect x="827" y="551" width="1" height="29" fill="#008000"/>
<rect x="826" y="553" width="2" height="19" fill="#008000"/>
<rect x="830" y="568" width="1" height="20" fill="#008000"/>
<rect x="829" y="570" width="2" height="5" fill="#008000"/>
<rect x="833" y="561" width="1" height="21" fill="#FF0000"/>
<rect x="832" y="569" width="2" height="9" fill="#FF0000"/>
<rect x="835" y="550" width="1" height="33" fill="#FF0000"/>
<rect x="834" y="560" width="2" height="20" fill="#FF0000"/>
<rect x="838" y="547" width="1" height="30" fill="#FF0000"/>
<rect x="837" y="559" width="2" height="15" fill="#FF0000"/>
<rect x="841" y="531" width="1" height="29" fill="#FF0000"/>
<rect x="840" y="541" width="2" height="11" fill="#FF0000"/>
<rect x="843" y="528" width="1" height="45" fill="#008000"/>
<rect x="842" y="557" width="2" height="8" fill="#008000"/>
<rect x="846" y="561" width="1" height="4" fill="#FF0000"/>
<rect x="845" y="563" width="2" height="2" fill="#FF0000"/>
<rect x="849" y="506" width="1" height="61" fill="#FF0000"/>
<rect x="848" y="508" width="2" height="56" fill="#FF0000"/>
<rect x="851" y="505" width="1" height="56" fill="#FF0000"/>
<rect x="850" y="527" width="2" height="25" fill="#FF0000"/>
<rect x="854" y="485" width="1" height="33" fill="#FF0000"/>
<rect x="853" y="486" width="2" height="8" fill="#FF0000"/>
<rect x="857" y="489" width="1" height="42" fill="#008000"/>
<rect x="856" y="504" width="2" height="17" fill="#008000"/>
<rect x="859" y="487" width="1" height="29" fill="#FF0000"/>
<rect x="858" y="491" width="2" height="10" fill="#FF0000"/>
<rect x="862" y="464" width="1" height="41" fill="#FF0000"/>
<rect x="861" y="464" width="2" height="18" fill="#FF0000"/>
<rect x="865" y="470" width="1" height="37" fill="#008000"/>
<rect x="864" y="482" width="2" height="11" fill="#008000"/>
<rect x="867" y="458" width="1" height="29" fill="#FF0000"/>
<rect x="866" y="465" width="2" height="18" fill="#FF0000"/>
<rect x="870" y="473" width="1" height="27" fill="#FF0000"/>
<rect x="869" y="478" width="2" height="16" fill="#FF0000"/>
<rect x="873" y="464" width="1" height="18" fill="#008000"/>
<rect x="872" y="467" width="2" height="5" fill="#008000"/>
<rect x="875" y="436" width="1" height="44" fill="#FF0000"/>
<rect x="874" y="448" width="2" height="27" fill="#FF0000"/>
<rect x="878" y="423" width="1" height="31" fill="#008000"/>
<rect x="877" y="423" width="2" height="10" fill="#008000"/>
<rect x="881" y="446" width="1" height="40" fill="#008000"/>
<rect x="880" y="462" width="2" height="16" fill="#008000"/>
<rect x="883" y="441" width="1" height="35" fill="#FF0000"/>
<rect x="882" y="446" width="2" height="13" fill="#FF0000"/>
<rect x="886" y="432" width="1" height="22" fill="#FF0000"/>
<rect x="885" y="443" width="2" height="11" fill="#FF0000"/>
<rect x="889" y="429" width="1" height="27" fill="#008000"/>
<rect x="888" y="429" width="2" height="8" fill="#008000"/>
<rect x="891" y="446" width="1" height="36" fill="#008000"/>
<rect x="890" y="456" width="2" height="12" fill="#008000"/>
<rect x="894" y="453" width="1" height="39" fill="#008000"/>
<rect x="893" y="457" width="2" height="19" fill="#008000"/>
<rect x="897" y="432" width="1" height="64" fill="#FF0000"/>
<rect x="896" y="436" width="2" height="57" fill="#FF0000"/>
<rect x="899" y="430" width="1" height="22" fill="#008000"/>
<rect x="898" y="432" width="2" height="14" fill="#008000"/>
<rect x="902" y="396" width="1" height="55" fill="#FF0000"/>
<rect x="901" y="402" width="2" height="29" fill="#FF0000"/>
<rect x="905" y="395" width="1" height="30" fill="#008000"/>
<rect x="904" y="412" width="2" height="8" fill="#008000"/>
<rect x="907" y="385" width="1" height="34" fill="#008000"/>
<rect x="906" y="408" width="2" height="10" fill="#008000"/>
<rect x="910" y="404" width="1" height="32" fill="#FF0000"/>
<rect x="909" y="407" width="2" height="13" fill="#FF0000"/>
<rect x="913" y="384" width="1" height="29" fill="#FF0000"/>
<rect x="912" y="393" width="2" height="8" fill="#FF0000"/>
<rect x="915" y="378" width="1" height="20" fill="#008000"/>
<rect x="914" y="388" width="2" height="10" fill="#008000"/>
<rect x="918" y="370" width="1" height="22" fill="#FF0000"/>
<rect x="917" y="376" width="2" height="6" fill="#FF0000"/>
<rect x="921" y="374" width="1" height="26" fill="#008000"/>
<rect x="920" y="393" width="2" height="7" fill="#008000"/>
<rect x="923" y="358" width="1" height="49" fill="#FF0000"/>
<rect x="922" y="359" width="2" height="12" fill="#FF0000"/>
<rect x="926" y="358" width="1" height="27" fill="#008000"/>
<rect x="925" y="366" width="2" height="6" fill="#008000"/>
<rect x="929" y="350" width="1" height="36" fill="#FF0000"/>
<rect x="928" y="364" width="2" height="21" fill="#FF0000"/>
<rect x="931" y="360" width="1" height="21" fill="#FF0000"/>
<rect x="930" y="370" width="2" height="11" fill="#FF0000"/>
<rect x="934" y="345" width="1" height="23" fill="#FF0000"/>
<rect x="933" y="348" width="2" height="14" fill="#FF0000"/>
<rect x="937" y="350" width="1" height="14" fill="#008000"/>
<rect x="936" y="360" width="2" height="4" fill="#008000"/>
<rect x="939" y="350" width="1" height="17" fill="#FF0000"/>
<rect x="938" y="350" width="2" height="9" fill="#FF0000"/>
<rect x="942" y="351" width="1" height="28" fill="#008000"/>
<rect x="941" y="356" width="2" height="14" fill="#008000"/>
<rect x="945" y="353" width="1" height="14" fill="#FF0000"/>
<rect x="944" y="356" width="2" height="5" fill="#FF0000"/>
<rect x="947" y="337" width="1" height="30" fill="#FF0000"/>
<rect x="946" y="337" width="2" height="7" fill="#FF0000"/>
<rect x="950" y="319" width="1" height="27" fill="#FF0000"/>
<rect x="949" y="325" width="2" height="9" fill="#FF0000"/>
<rect x="953" y="311" width="1" height="28" fill="#008000"/>
<rect x="952" y="312" width="2" height="17" fill="#008000"/>
<rect x="955" y="313" width="1" height="25" fill="#FF0000"/>
<rect x="954" y="315" width="2" height="15" fill="#FF0000"/>
<rect x="958" y="314" width="1" height="26" fill="#FF0000"/>
<rect x="957" y="328" width="2" height="9" fill="#FF0000"/>
<rect x="961" y="317" width="1" height="76" fill="#008000"/>
<rect x="960" y="321" width="2" height="68" fill="#008000"/>
<rect x="963" y="361" width="1" height="37" fill="#FF0000"/>
<rect x="962" y="384" width="2" height="12" fill="#FF0000"/>
<rect x="966" y="363" width="1" height="24" fill="#008000"/>
<rect x="965" y="369" width="2" height="7" fill="#008000"/>
<rect x="969" y="380" width="1" height="32" fill="#008000"/>
<rect x="968" y="380" width="2" height="19" fill="#008000"/>
<rect x="971" y="403" width="1" height="35" fill="#008000"/>
<rect x="970" y="421" width="2" height="13" fill="#008000"/>
<rect x="974" y="429" width="1" height="38" fill="#008000"/>
<rect x="973" y="429" width="2" height="20" fill="#008000"/>
<rect x="977" y="448" width="1" height="28" fill="#FF0000"/>
<rect x="976" y="449" width="2" height="6" fill="#FF0000"/>
<rect x="979" y="441" width="1" height="22" fill="#008000"/>
<rect x="978" y="443" width="2" height="13" fill="#008000"/>
<rect x="982" y="451" width="1" height="20" fill="#008000"/>
<rect x="981" y="460" width="2" height="10" fill="#008000"/>
<rect x="985" y="421" width="1" height="54" fill="#FF0000"/>
<rect x="984" y="431" width="2" height="17" fill="#FF0000"/>
<rect x="987" y="401" width="1" height="33" fill="#008000"/>
<rect x="986" y="409" width="2" height="20" fill="#008000"/>
<rect x="990" y="417" width="1" height="21" fill="#FF0000"/>
<rect x="989" y="428" width="2" height="6" fill="#FF0000"/>
<rect x="993" y="407" width="1" height="15" fill="#FF0000"/>
<rect x="992" y="409" width="2" height="6" fill="#FF0000"/>
<rect x="995" y="397" width="1" height="31" fill="#FF0000"/>
<rect x="994" y="416" width="2" height="6" fill="#FF0000"/>
<rect x="998" y="400" width="1" height="13" fill="#FF0000"/>
<rect x="997" y="403" width="2" height="8" fill="#FF0000"/>
<rect x="1001" y="389" width="1" height="19" fill="#FF0000"/>
<rect x="1000" y="389" width="2" height="12" fill="#FF0000"/>
<rect x="1003" y="381" width="1" height="27" fill="#FF0000"/>
<rect x="1002" y="390" width="2" height="8" fill="#FF0000"/>
<rect x="1006" y="346" width="1" height="38" fill="#FF0000"/>
<rect x="1005" y="361" width="2" height="23" fill="#FF0000"/>
<rect x="1009" y="335" width="1" height="26" fill="#FF0000"/>
<rect x="1008" y="339" width="2" height="9" fill="#FF0000"/>
<rect x="1011" y="333" width="1" height="22" fill="#FF0000"/>
<rect x="1010" y="340" width="2" height="8" fill="#FF0000"/>
<rect x="1014" y="329" width="1" height="23" fill="#008000"/>
<rect x="1013" y="330" width="2" height="14" fill="#008000"/>
<rect x="1017" y="334" width="1" height="24" fill="#FF0000"/>
<rect x="1016" y="342" width="2" height="13" fill="#FF0000"/>
<rect x="1019" y="334" width="1" height="20" fill="#008000"/>
<rect x="1018" y="341" width="2" height="11" fill="#008000"/>
<rect x="1022" y="318" width="1" height="24" fill="#FF0000"/>
<rect x="1021" y="322" width="2" height="11" fill="#FF0000"/>
<rect x="1025" y="329" width="1" height="19" fill="#008000"/>
<rect x="1024" y="333" width="2" height="7" fill="#008000"/>
<rect x="1027" y="324" width="1" height="22" fill="#008000"/>
<rect x="1026" y="324" width="2" height="12" fill="#008000"/>
<rect x="1030" y="312" width="1" height="64" fill="#008000"/>
<rect x="1029" y="315" width="2" height="59" fill="#008000"/>
<rect x="1033" y="355" width="1" height="29" fill="#FF0000"/>
<rect x="1032" y="368" width="2" height="6" fill="#FF0000"/>
<rect x="1035" y="326" width="1" height="40" fill="#FF0000"/>
<rect x="1034" y="353" width="2" height="13" fill="#FF0000"/>
<rect x="1038" y="306" width="1" height="34" fill="#FF0000"/>
<rect x="1037" y="321" width="2" height="19" fill="#FF0000"/>
<rect x="1041" y="299" width="1" height="20" fill="#FF0000"/>
<rect x="1040" y="300" width="2" height="6" fill="#FF0000"/>
<rect x="1043" y="294" width="1" height="29" fill="#008000"/>
<rect x="1042" y="305" width="2" height="7" fill="#008000"/>
<rect x="1046" y="316" width="1" height="36" fill="#008000"/>
<rect x="1045" y="324" width="2" height="18" fill="#008000"/>
<rect x="1049" y="326" width="1" height="29" fill="#008000"/>
<rect x="1048" y="335" width="2" height="8" fill="#008000"/>
<rect x="1051" y="335" width="1" height="35" fill="#008000"/>
<rect x="1050" y="348" width="2" height="16" fill="#008000"/>
<rect x="1054" y="355" width="1" height="25" fill="#008000"/>
<rect x="1053" y="365" width="2" height="14" fill="#008000"/>
<rect x="1057" y="364" width="1" height="31" fill="#FF0000"/>
<rect x="1056" y="366" width="2" height="14" fill="#FF0000"/>
<rect x="1059" y="358" width="1" height="48" fill="#008000"/>
<rect x="1058" y="364" width="2" height="27" fill="#008000"/>
<rect x="1062" y="393" width="1" height="35" fill="#008000"/>
<rect x="1061" y="400" width="2" height="15" fill="#008000"/>
<rect x="1065" y="407" width="1" height="28" fill="#008000"/>
<rect x="1064" y="409" width="2" height="15" fill="#008000"/>
<rect x="1067" y="416" width="1" height="28" fill="#008000"/>
<rect x="1066" y="421" width="2" height="8" fill="#008000"/>
<rect x="1070" y="431" width="1" height="49" fill="#008000"/>
<rect x="1069" y="464" width="2" height="12" fill="#008000"/>
<rect x="1073" y="458" width="1" height="22" fill="#008000"/>
<rect x="1072" y="462" width="2" height="10" fill="#008000"/>
<rect x="1075" y="468" width="1" height="51" fill="#008000"/>
<rect x="1074" y="502" width="2" height="17" fill="#008000"/>
<rect x="1078" y="493" width="1" height="45" fill="#008000"/>
<rect x="1077" y="499" width="2" height="18" fill="#008000"/>
<rect x="1081" y="504" width="1" height="33" fill="#000000"/>
<rect x="1080" y="520" width="2" height="17" fill="#000000"/>
<rect x="1083" y="512" width="1" height="24" fill="#008000"/>
<rect x="1082" y="512" width="2" height="16" fill="#008000"/>
<rect x="1086" y="524" width="1" height="29" fill="#008000"/>
<rect x="1085" y="539" width="2" height="11" fill="#008000"/>
<rect x="1089" y="521" width="1" height="24" fill="#FF0000"/>
<rect x="1088" y="531" width="2" height="14" fill="#FF0000"/>
<rect x="1091" y="516" width="1" height="25" fill="#FF0000"/>
<rect x="1090" y="522" width="2" height="5" fill="#FF0000"/>
<rect x="1094" y="507" width="1" height="21" fill="#FF0000"/>
<rect x="1093" y="510" width="2" height="5" fill="#FF0000"/>
<rect x="1097" y="506" width="1" height="8" fill="#FF0000"/>
<rect x="1096" y="507" width="2" height="6" fill="#FF0000"/></g><g shape-rendering="crispEdges"><polyline points="62.3,642.0 63.6,643.1 65.8,645.0 68.4,647.2 71.1,649.3 73.3,650.7 74.8,651.3 76.8,652.1 79.1,652.9 81.7,653.7 84.3,654.5 86.7,655.2 88.9,655.9 90.6,656.5 92.3,657.2 94.3,658.1 96.7,659.1 99.2,660.2 101.7,661.2 104.1,662.2 106.2,663.1 108.0,663.7 109.4,664.1 111.2,664.5 113.3,665.0 115.6,665.4 117.9,665.9 120.3,666.4 122.6,666.8 124.7,667.3 126.6,667.6 128.2,668.0 129.8,668.4 131.8,668.8 134.0,669.4 136.5,670.0 139.0,670.6 141.5,671.2 144.0,671.9 146.3,672.5 148.3,673.1 150.0,673.7 151.5,674.3 153.4,675.1 155.5,676.1 157.8,677.3 160.2,678.5 162.7,679.7 165.1,680.9 167.4,682.0 169.5,683.0 171.4,683.8 172.9,684.4 174.6,685.0 176.6,685.6 178.9,686.2 181.4,686.8 183.9,687.4 186.4,688.0 188.8,688.6 191.0,689.0 193.0,689.4 194.5,689.7 196.1,690.0 198.0,690.2 200.2,690.5 202.4,690.7 204.7,691.0 206.9,691.1 209.1,691.3 211.0,691.3 212.6,691.3 214.1,691.2 216.1,691.0 218.4,690.7 220.8,690.3 223.4,689.9 225.9,689.4 228.4,689.0 230.6,688.6 232.5,688.3 234.0,688.0 235.8,687.6 237.8,687.1 240.1,686.4 242.5,685.8 244.8,685.2 246.9,684.6 248.7,684.3 250.0,684.1 251.8,684.3 253.8,684.9 255.9,685.7 258.0,686.5 260.0,687.2 261.4,687.6 263.4,688.1 265.8,688.7 268.4,689.3 271.2,690.0 273.8,690.6 276.3,691.2 278.3,691.7 279.8,692.0 281.7,692.4 283.7,692.9 285.8,693.4 288.0,693.8 290.1,694.2 292.0,694.4 293.4,694.5 295.2,694.5 297.5,694.6 299.9,694.6 302.5,694.7 305.1,694.7 307.6,694.6 309.9,694.6 311.9,694.5 313.4,694.4 315.1,694.2 317.1,694.0 319.2,693.6 321.5,693.2 323.7,692.7 326.0,692.1 328.1,691.4 330.0,690.5 331.3,689.8 333.1,688.7 335.1,687.4 337.4,685.9 339.9,684.3 342.5,682.6 345.1,680.8 347.7,679.0 350.1,677.3 352.4,675.7 354.4,674.2 356.1,673.0 357.3,672.0 359.5,670.0 361.8,667.5 364.0,664.9 366.2,662.3 368.2,659.8 370.0,657.7 371.4,656.1 373.2,654.1 375.3,651.6 377.6,649.0 380.0,646.2 382.3,643.5 384.5,641.0 386.5,638.8 388.0,637.0 389.5,635.2 391.4,633.0 393.5,630.5 395.8,627.8 398.2,625.1 400.5,622.4 402.6,620.0 404.5,617.9 406.0,616.2 407.5,614.6 409.4,612.8 411.5,610.7 413.8,608.5 416.2,606.3 418.5,604.2 420.6,602.2 422.5,600.4 424.0,599.0 425.5,597.5 427.4,595.7 429.6,593.7 431.9,591.5 434.3,589.3 436.6,587.1 438.7,585.1 440.6,583.4 442.0,582.0 443.8,580.2 446.0,578.1 448.4,575.7 450.9,573.3 453.3,570.9 455.4,568.8 457.1,567.0 458.8,565.1 461.1,562.6 463.6,559.8 466.2,556.9 468.6,554.1 470.8,551.6 472.4,549.7 474.2,547.6 476.3,545.0 478.6,542.1 480.9,539.3 483.0,536.7 484.6,534.5 486.3,532.1 488.4,528.9 490.8,525.3 493.1,521.7 495.2,518.4 496.8,516.0 498.7,513.2 501.1,509.6 503.6,505.8 505.9,502.4 507.5,500.0 509.7,497.0 512.3,493.7 515.0,489.5 516.4,487.1 518.3,483.5 520.6,479.1 523.2,474.3 525.8,469.4 528.3,464.7 530.6,460.7 532.3,457.5 533.8,454.8 535.7,451.6 537.8,447.9 540.1,443.9 542.5,439.9 544.8,436.0 546.9,432.5 548.8,429.3 550.3,426.9 552.0,424.2 554.1,421.0 556.5,417.4 559.0,413.6 561.4,409.9 563.7,406.5 565.6,403.7 567.0,401.5 569.5,397.4 572.3,392.8 574.9,388.3 576.9,385.0 578.9,381.9 581.5,378.0 584.0,374.2 586.0,371.2 588.0,367.9 590.5,363.6 593.1,359.3 595.2,356.0 596.7,354.1 598.8,351.6 601.2,349.0 603.6,346.3 605.7,344.0 607.4,342.2 609.1,340.5 611.3,338.3 613.7,335.9 616.1,333.5 618.1,331.5 619.6,330.0 622.1,327.2 624.9,324.0 627.3,321.6 628.9,320.4 631.1,318.9 633.6,317.4 635.9,315.9 637.9,314.7 639.4,313.8 641.4,312.5 643.7,311.1 646.2,309.6 648.5,308.1 650.6,306.8 652.2,305.7 654.1,304.3 656.5,302.3 659.1,300.1 661.6,298.0 663.7,296.2 665.2,295.0 667.8,292.8 670.5,291.0 671.9,290.3 673.9,289.4 676.4,288.3 679.1,287.1 681.7,286.0 684.0,285.0 685.8,284.2 687.5,283.4 689.7,282.4 692.2,281.3 694.7,280.2 697.2,279.1 699.4,278.1 701.1,277.3 702.9,276.5 705.1,275.4 707.7,274.2 710.3,273.0 712.8,271.9 714.8,271.0 716.3,270.4 719.0,270.0 721.7,270.0 724.0,269.7 725.6,269.1 727.9,268.0 730.4,266.9 732.8,265.8 734.7,265.0 736.3,264.5 738.5,263.8 741.0,263.1 743.4,262.4 745.5,261.9 746.9,261.6 749.0,261.4 751.2,261.4 753.0,261.7 755.2,262.6 758.1,264.1 760.6,265.8 762.6,268.0 765.2,271.3 767.8,274.7 769.8,277.3 772.2,280.7 775.1,284.8 777.4,288.0 779.7,290.8 782.7,294.2 785.0,297.0 787.3,300.1 790.3,304.1 792.7,307.2 794.6,309.3 797.2,311.8 799.8,314.4 801.8,316.4 803.8,318.3 806.4,320.7 809.0,323.2 811.0,325.5 812.8,328.4 815.1,332.4 817.5,336.8 820.0,340.8 821.2,342.5 822.9,344.9 824.9,347.6 827.2,350.7 829.6,353.9 832.0,357.2 834.4,360.4 836.6,363.3 838.5,365.9 840.0,368.0 841.6,370.3 843.7,373.3 845.9,376.7 848.4,380.2 850.8,383.9 853.2,387.3 855.5,390.5 857.5,393.1 859.1,395.0 860.7,396.5 862.8,398.2 865.1,399.9 867.6,401.6 870.1,403.2 872.5,404.8 874.8,406.3 876.7,407.6 878.2,408.7 880.1,410.3 882.3,412.3 884.7,414.6 887.2,417.0 889.6,419.2 891.7,421.1 893.4,422.5 895.1,423.6 897.3,424.9 899.8,426.2 902.3,427.5 904.8,428.8 907.0,429.9 908.7,430.9 910.4,432.0 912.6,433.4 915.1,435.1 917.7,436.8 920.2,438.4 922.3,439.8 924.0,440.8 926.0,441.8 928.4,442.9 931.2,444.1 933.8,445.1 936.1,446.0 937.7,446.5 940.3,446.7 943.0,446.4 945.3,446.0 947.2,445.5 949.8,444.8 952.4,444.1 954.5,443.5 956.2,443.1 958.6,442.5 961.1,442.0 963.5,441.5 965.2,441.3 967.2,441.3 969.6,441.5 972.1,441.7 974.4,442.0 975.9,442.2 978.1,442.6 980.6,443.0 983.3,443.4 985.8,443.9 988.0,444.3 989.6,444.6 991.6,445.2 993.8,445.9 996.2,446.8 998.4,447.5 1000.3,448.0 1002.0,448.3 1004.3,448.7 1006.9,449.1 1009.5,449.4 1011.9,449.5 1013.7,449.4 1015.5,448.9 1017.9,447.9 1020.5,446.7 1023.2,445.4 1025.6,444.1 1027.5,443.0 1029.2,441.9 1031.3,440.4 1033.8,438.6 1036.3,436.7 1038.8,434.9 1041.0,433.4 1042.7,432.3 1044.5,431.4 1046.7,430.3 1049.2,429.1 1051.8,427.9 1054.3,426.9 1056.4,426.0 1058.0,425.4 1060.0,424.8 1062.4,424.2 1064.8,423.6 1067.0,423.2 1068.7,423.1 1070.8,423.4 1073.3,424.2 1075.9,425.0 1077.9,425.4 1079.6,425.4 1081.9,425.2 1084.5,424.9 1086.8,424.6 1088.5,424.4 1090.7,424.0 1093.5,423.4 1096.1,422.8 1097.7,422.4" fill="none" stroke="#1F3864" stroke-width="1"/>
<polyline points="62.3,643.0 63.4,643.3 65.1,643.8 67.3,644.4 69.8,645.2 72.4,645.9 74.9,646.6 77.2,647.3 79.0,647.8 80.5,648.2 82.3,648.7 84.5,649.3 86.8,650.0 89.2,650.7 91.7,651.3 94.0,652.0 96.1,652.6 97.9,653.2 99.3,653.6 101.1,654.2 103.3,655.1 105.6,656.0 107.9,656.9 110.1,657.8 112.1,658.7 113.7,659.4 115.3,660.2 117.4,661.2 119.7,662.5 122.2,663.7 124.5,664.9 126.6,665.9 128.2,666.6 129.9,667.1 132.0,667.5 134.4,668.0 136.9,668.5 139.3,668.9 141.2,669.4 142.6,670.0 145.0,672.4 147.5,675.8 150.0,679.1 151.5,680.6 153.5,682.8 156.0,685.3 158.7,687.9 161.2,690.6 163.5,693.1 165.3,695.1 167.0,697.4 169.2,700.5 171.7,704.0 174.2,707.8 176.7,711.3 178.8,714.3 180.5,716.5 182.5,718.7 184.9,721.3 187.7,724.0 190.3,726.5 192.6,728.7 194.3,730.2 196.5,731.9 199.1,733.7 201.6,735.2 203.4,736.3 205.8,737.5 208.7,738.7 211.0,739.4 213.4,739.2 216.3,738.6 218.7,737.9 220.9,736.8 223.6,735.2 226.3,733.3 227.8,732.2 229.8,730.5 232.3,728.5 235.0,726.3 237.5,724.2 239.8,722.4 241.6,721.0 243.4,719.7 245.6,718.0 248.1,716.2 250.7,714.4 253.2,712.7 255.3,711.3 256.9,710.4 258.8,709.8 261.1,709.5 263.4,709.2 265.7,708.8 267.6,708.0 269.1,706.8 271.2,705.0 273.6,702.7 276.1,700.2 278.6,697.7 280.9,695.4 282.8,693.6 284.4,692.1 286.4,690.3 288.7,688.1 291.3,685.7 293.9,683.2 296.5,680.8 298.9,678.6 301.0,676.8 302.7,675.3 304.4,674.0 306.5,672.4 308.8,670.6 311.3,668.8 313.9,667.0 316.3,665.2 318.6,663.6 320.6,662.1 322.1,661.0 324.0,659.6 326.3,657.8 328.9,655.9 331.4,654.0 333.9,652.0 335.9,650.3 337.4,648.8 339.7,645.5 342.3,640.9 344.8,636.5 346.6,633.5 348.9,631.3 351.7,629.1 354.2,626.7 355.9,624.2 358.3,620.3 360.8,616.0 363.2,612.0 364.9,609.1 367.4,604.7 370.2,599.5 372.5,595.4 374.2,592.6 376.3,589.0 378.7,585.2 380.8,582.0 382.3,579.9 384.4,577.1 386.9,573.8 389.5,570.4 392.1,567.0 394.3,564.1 396.1,561.9 397.8,559.8 400.1,557.2 402.6,554.4 405.2,551.5 407.6,548.8 409.7,546.5 411.3,545.0 413.3,543.4 415.6,541.9 418.0,540.5 420.3,539.2 422.0,538.2 423.8,537.0 426.2,535.4 428.7,533.8 431.0,532.3 432.7,531.3 434.8,530.5 437.4,529.8 439.9,529.0 441.9,528.3 443.9,527.2 446.4,525.6 448.9,523.9 451.0,522.2 452.7,520.4 455.0,517.8 457.5,514.9 459.9,512.1 461.7,510.0 463.5,507.9 465.9,505.2 468.4,502.3 470.7,499.7 472.4,497.7 474.5,495.3 477.1,492.4 479.7,489.4 481.6,487.0 484.0,483.0 486.9,477.8 489.2,473.3 491.6,467.9 494.5,460.7 496.8,455.3 498.6,451.2 500.8,446.4 502.9,441.6 504.3,438.3 506.5,433.4 508.9,427.8 511.4,422.2 513.5,417.3 515.0,414.1 517.3,409.8 519.8,405.7 521.9,402.0 523.7,398.2 526.2,392.8 528.8,387.4 531.0,383.4 532.6,381.2 534.8,378.4 537.3,375.4 539.7,372.5 541.8,369.9 543.3,368.0 545.4,364.2 547.6,359.7 549.4,356.0 551.6,351.9 554.5,346.6 557.0,342.2 558.9,338.7 561.5,334.1 564.1,329.3 566.2,325.4 567.9,322.0 570.3,317.3 572.8,312.2 575.2,307.5 576.9,304.0 579.0,299.7 581.6,294.4 584.2,289.3 586.0,285.7 588.0,282.1 590.2,278.2 592.1,275.0 594.2,271.2 597.1,266.3 599.8,261.9 601.5,259.4 603.8,255.8 606.6,251.7 609.4,247.7 611.8,244.3 613.5,242.0 615.7,239.8 618.4,237.9 620.8,236.1 622.7,234.4 625.1,230.8 628.0,225.9 630.3,222.2 632.6,219.6 635.5,216.8 637.9,214.5 639.9,212.5 642.7,209.9 645.5,207.3 647.6,205.5 650.1,203.8 653.0,202.1 655.3,201.3 657.6,201.8 660.6,202.9 662.9,204.0 665.3,205.0 668.2,206.4 670.5,207.8 672.4,210.1 674.7,213.3 676.6,216.2 678.9,219.8 681.8,224.5 684.3,228.4 686.2,231.0 688.7,234.4 691.3,237.9 693.4,240.6 695.2,242.8 697.5,245.8 700.1,249.1 702.4,252.1 704.1,254.4 706.6,258.5 709.4,263.6 711.8,268.0 713.7,272.0 716.4,277.5 719.0,282.9 720.9,286.5 723.2,289.1 726.0,291.3 728.5,293.3 730.2,294.8 732.5,296.9 735.0,299.2 737.4,301.4 739.2,303.0 741.0,304.5 743.3,306.3 745.7,308.2 748.0,310.1 749.9,311.8 751.5,313.5 753.7,315.8 756.1,318.5 758.5,321.2 760.6,323.7 762.1,325.5 764.2,328.2 766.8,331.5 769.3,334.9 771.3,337.7 773.3,340.9 776.0,345.2 778.6,349.6 780.5,353.0 782.9,357.8 785.7,363.7 788.1,368.3 790.0,371.1 792.6,374.5 795.2,377.8 797.3,380.5 799.0,382.7 801.4,385.6 803.9,388.8 806.2,391.8 807.9,394.2 810.5,399.0 813.5,405.0 815.6,409.5 817.9,414.2 820.0,418.7 821.8,422.1 824.3,426.6 826.4,430.5 828.7,435.3 831.7,441.5 834.0,445.8 835.8,448.0 838.0,450.0 840.0,451.7 841.6,453.1 843.8,455.0 846.4,457.1 848.8,459.1 850.7,460.6 852.3,461.7 854.4,463.1 856.7,464.6 859.1,466.0 861.2,467.3 862.9,468.3 864.6,469.2 866.7,470.3 869.1,471.5 871.4,472.7 873.5,473.7 875.1,474.4 877.0,475.1 879.3,475.9 881.8,476.7 884.1,477.5 885.8,478.2 887.9,479.4 890.6,481.2 893.2,483.0 895.0,484.3 897.0,485.8 899.3,487.5 901.1,488.9 903.1,490.5 905.7,492.5 907.9,493.5 909.6,493.1 912.0,492.1 914.4,490.8 916.3,489.7 918.2,488.3 920.7,486.2 923.3,483.9 925.5,482.0 927.0,480.6 929.1,478.7 931.5,476.5 933.9,474.2 936.0,472.2 937.7,470.6 939.3,469.0 941.5,467.0 943.8,464.7 946.1,462.4 948.3,460.4 949.9,459.0 951.6,457.7 953.7,456.2 956.1,454.5 958.5,452.9 960.6,451.6 962.1,450.7 964.2,449.8 966.8,449.1 969.3,448.4 971.3,447.7 973.3,446.8 975.9,445.6 978.5,444.2 980.5,443.0 982.5,441.4 985.0,439.1 987.5,436.7 989.6,434.7 991.3,433.1 993.7,430.9 996.2,428.5 998.6,426.3 1000.3,424.5 1002.3,422.1 1004.9,418.9 1007.4,415.8 1009.5,413.3 1011.3,411.4 1013.6,408.9 1016.2,406.3 1018.6,403.8 1020.5,402.0 1022.1,400.6 1024.3,398.8 1026.7,396.8 1029.1,394.9 1031.2,393.2 1032.7,391.9 1034.8,390.1 1037.4,387.9 1039.9,385.8 1041.8,384.2 1043.7,382.6 1046.2,380.7 1048.6,378.8 1050.4,377.5 1052.8,376.4 1055.7,375.3 1058.0,374.6 1060.3,374.3 1063.3,374.2 1065.6,374.3 1067.9,374.9 1070.9,376.0 1073.3,377.3 1075.2,379.0 1077.8,381.6 1080.4,384.4 1082.4,386.5 1084.5,388.6 1087.1,391.2 1089.7,393.8 1091.6,395.6 1093.8,397.4 1096.2,399.3 1097.7,400.5" fill="none" stroke="#FF80FF" stroke-width="1"/>
<polyline points="62.3,619.0 63.6,620.3 65.8,622.4 68.4,625.0 71.1,627.3 73.3,629.0 74.8,629.8 76.9,630.7 79.4,631.6 82.0,632.6 84.7,633.7 87.1,634.6 89.2,635.5 90.6,636.3 92.8,638.1 95.1,640.5 97.3,643.3 99.3,646.4 100.8,649.1 102.9,653.3 105.4,658.4 108.0,663.7 110.4,668.6 112.4,672.7 113.7,675.2 115.6,678.3 117.0,680.0 119.1,683.5 122.2,688.5 124.9,693.0 126.7,695.9 129.2,700.0 132.0,704.5 134.6,708.6 136.5,711.7 138.3,714.6 140.5,718.2 142.9,722.0 145.0,725.3 146.6,727.6 149.0,730.5 151.7,733.5 153.8,735.6 155.7,737.2 158.0,738.8 160.0,739.9 161.7,740.4 163.9,740.8 166.3,741.2 168.3,741.7 169.8,742.3 171.8,743.3 174.1,744.4 176.5,745.5 178.7,746.5 180.5,747.0 182.2,747.2 184.4,747.3 187.0,747.3 189.7,747.3 192.2,747.2 194.3,747.1 195.8,747.0 198.5,746.6 201.2,745.9 203.4,745.5 205.3,745.6 207.9,745.8 210.6,745.9 212.6,745.5 214.5,744.1 217.0,741.7 219.6,738.9 221.8,736.3 223.5,734.1 225.8,731.0 228.5,727.3 231.2,723.6 233.6,720.3 235.5,718.0 237.3,716.2 239.7,714.1 242.3,711.9 244.9,709.7 247.3,707.6 249.2,705.8 250.9,703.9 253.2,701.3 255.8,698.3 258.4,695.2 260.9,692.2 263.0,689.8 264.5,688.2 267.2,686.1 269.9,684.5 272.0,682.9 274.2,680.0 276.9,675.8 279.4,672.0 280.9,669.9 282.9,666.9 285.3,663.4 287.7,659.9 289.9,656.7 291.6,654.2 293.3,651.6 295.4,648.1 297.8,644.2 300.2,640.4 302.3,637.2 303.8,635.0 306.0,632.8 308.6,630.7 311.1,628.8 313.0,627.4 315.4,625.3 318.3,622.8 320.6,621.3 322.9,621.0 325.8,621.1 328.2,621.3 330.2,621.7 332.8,622.5 335.4,623.1 337.4,623.2 339.8,621.8 342.7,619.5 345.0,617.5 347.4,615.8 350.3,613.5 352.7,611.4 355.0,608.3 357.9,603.9 360.3,600.0 362.2,596.7 364.7,592.1 367.4,587.3 369.5,583.2 371.3,579.4 373.7,574.1 376.4,568.3 378.8,562.8 380.8,558.8 382.4,555.8 384.6,551.9 386.9,547.8 389.3,543.7 391.4,540.1 393.0,537.4 394.9,534.3 397.2,530.6 399.6,526.6 401.9,523.1 403.7,520.6 405.5,518.5 407.8,516.0 410.2,513.5 412.5,511.1 414.4,509.2 416.0,507.5 418.0,505.3 420.3,502.8 422.7,500.2 424.8,498.0 426.6,496.2 428.3,494.7 430.5,492.7 433.0,490.5 435.7,488.2 438.2,486.1 440.4,484.4 441.9,483.2 444.2,482.0 446.7,481.2 449.1,480.4 451.0,479.4 453.0,477.5 455.5,474.6 458.1,471.6 460.2,469.6 461.7,468.7 463.8,467.6 466.2,466.6 468.6,465.7 470.8,464.9 472.4,464.5 474.3,464.4 476.7,464.7 479.2,465.1 481.5,465.4 483.1,465.5 485.6,465.0 488.5,464.0 490.7,462.8 492.7,460.6 495.0,457.3 496.8,454.0 498.5,449.1 500.7,442.2 502.9,435.5 504.3,431.5 506.4,425.9 508.9,419.4 511.3,412.7 513.5,406.8 515.0,402.4 517.0,396.0 519.4,388.0 521.7,380.2 523.4,374.2 525.8,366.0 528.7,356.0 531.0,348.3 533.4,341.7 536.3,333.8 538.7,327.0 541.1,318.6 544.1,307.6 546.3,299.4 549.2,290.3 551.7,282.0 553.6,272.7 555.5,263.4 557.2,257.7 559.5,250.7 561.6,245.0 563.5,241.1 566.1,236.0 568.7,230.9 570.8,226.8 572.8,222.2 575.4,216.0 578.0,209.8 579.9,205.4 582.3,200.3 585.2,194.4 587.6,190.0 589.4,187.2 591.9,183.9 594.3,180.8 596.0,179.0 598.6,178.0 601.3,179.0 602.9,180.9 605.1,184.0 607.7,187.7 610.2,191.0 612.0,193.2 613.8,194.6 616.2,196.0 618.7,197.3 621.0,198.4 622.7,199.3 625.2,201.0 628.0,203.0 630.3,204.6 632.6,206.2 635.5,208.3 637.9,210.0 639.9,211.5 642.7,213.6 645.5,215.7 647.6,217.0 650.1,217.8 653.0,218.4 655.3,219.3 657.6,221.7 660.6,225.1 662.9,227.7 665.3,229.3 668.3,230.9 670.5,232.3 672.9,235.3 675.1,239.0 676.9,242.9 679.2,248.5 681.2,252.9 683.5,257.0 686.5,262.2 688.9,266.6 691.2,272.3 694.2,279.7 696.5,285.0 698.8,288.0 701.7,291.0 704.1,293.3 706.1,295.2 708.8,297.8 711.4,300.3 713.3,302.0 715.3,303.5 717.6,305.0 719.4,306.5 721.3,309.3 723.6,313.3 725.5,316.4 727.3,319.3 729.6,322.9 731.6,325.5 733.8,327.6 736.7,329.9 739.2,331.6 741.2,332.5 743.9,333.5 746.6,334.5 748.4,335.5 750.8,339.3 753.0,343.9 754.8,347.8 757.3,353.2 759.1,357.6 761.4,365.4 763.7,372.9 765.5,376.2 767.9,380.0 769.8,383.6 771.7,389.1 774.1,396.5 775.9,401.9 778.1,406.8 780.5,411.0 782.3,413.3 784.9,416.4 787.6,419.4 789.8,421.4 791.5,422.4 793.9,423.4 796.4,424.4 798.8,425.3 800.5,426.0 802.6,426.9 805.1,428.0 807.6,429.2 809.6,430.5 811.6,432.5 814.3,435.6 816.9,438.8 818.8,441.2 821.2,444.4 824.1,448.4 826.4,451.9 828.8,456.4 831.7,462.5 834.0,467.2 835.9,471.4 838.2,476.6 840.0,480.8 841.8,485.4 844.1,491.2 846.1,495.8 848.4,500.3 851.4,505.8 853.7,509.5 855.5,511.4 857.7,513.0 859.8,514.0 861.4,514.3 863.7,514.6 866.2,514.7 868.7,514.7 870.5,514.4 872.3,513.6 874.6,512.2 877.1,510.6 879.4,509.1 881.2,508.0 883.0,507.1 885.4,506.1 887.9,505.0 890.2,504.1 891.9,503.4 894.0,502.7 896.6,501.8 899.2,501.0 901.1,500.3 903.5,499.0 906.4,497.3 908.7,495.8 911.1,494.0 914.0,491.6 916.3,489.7 918.2,488.0 920.5,485.8 922.4,483.5 924.7,479.7 927.7,474.3 930.1,469.8 932.4,465.2 935.4,459.3 937.7,454.5 940.0,449.4 943.0,442.8 945.3,437.7 947.7,432.9 950.6,427.0 953.0,422.5 955.3,418.6 958.3,414.1 960.6,410.8 962.9,407.9 965.8,404.7 968.2,402.6 970.1,401.9 972.7,401.4 975.4,401.1 977.4,400.8 979.4,400.5 982.1,400.2 984.7,399.9 986.6,399.6 989.1,399.1 992.0,398.4 994.2,397.7 997.2,396.0 1000.0,394.1 1002.6,392.3 1005.2,390.3 1007.3,388.7 1010.1,386.5 1012.2,385.0 1014.7,383.8 1017.4,382.7 1018.9,381.9 1021.2,380.7 1023.7,379.3 1025.9,378.2 1027.5,377.5 1029.5,377.4 1031.7,377.6 1033.6,377.5 1035.5,376.6 1038.1,375.1 1040.7,373.5 1042.7,372.5 1045.1,371.8 1048.1,371.4 1050.4,371.2 1052.7,371.4 1055.6,372.0 1058.0,373.0 1059.9,374.6 1062.5,377.2 1065.2,379.9 1067.2,381.9 1069.2,383.6 1071.8,385.8 1074.3,387.9 1076.3,389.5 1078.3,390.9 1080.8,392.5 1083.4,394.2 1085.5,395.6 1087.1,396.8 1089.4,398.4 1092.0,400.3 1094.5,402.1 1096.5,403.6 1097.7,404.5" fill="none" stroke="#0000FF" stroke-width="1"/>
<polyline points="62.3,620.4 63.7,624.8 66.0,632.1 68.5,640.1 70.4,646.4 72.2,653.2 74.6,662.4 77.1,671.5 79.0,678.0 81.1,683.0 84.0,688.9 86.8,694.5 88.9,698.8 90.8,703.4 93.2,709.3 95.6,715.0 97.5,719.0 99.3,722.0 101.7,725.4 104.2,728.5 106.2,730.5 108.1,731.5 110.7,732.4 113.5,733.3 116.0,734.1 117.7,734.8 120.8,737.8 123.5,740.6 125.5,741.7 128.2,742.9 130.7,743.5 132.5,743.4 135.1,742.9 137.9,742.4 140.5,742.0 142.3,741.8 144.7,742.3 147.3,743.2 149.5,744.2 151.4,745.4 154.0,747.1 156.8,748.8 159.0,750.0 160.6,750.5 162.6,751.0 165.0,751.5 167.4,752.0 169.7,752.3 171.4,752.4 173.2,752.2 175.6,751.7 178.3,751.1 181.0,750.5 183.3,750.1 185.0,750.0 186.8,750.5 189.1,751.5 191.4,752.7 193.4,753.6 195.0,753.9 196.8,753.1 199.0,751.5 201.3,749.6 203.4,747.8 205.1,746.4 207.5,744.5 210.3,742.3 213.0,739.9 215.5,737.6 217.2,735.6 219.4,731.6 221.9,726.0 224.4,720.0 226.3,715.0 228.3,708.8 231.0,700.2 233.6,691.8 235.5,686.0 237.6,681.0 240.0,675.9 242.0,672.0 244.0,667.8 246.6,662.5 248.9,658.0 250.5,655.0 252.8,650.8 255.4,646.2 257.7,642.3 259.5,639.7 261.6,637.9 264.3,636.5 266.8,635.3 268.7,634.3 270.9,632.4 273.5,630.2 275.6,628.7 277.8,628.4 280.5,628.5 282.4,628.7 284.0,629.6 285.5,630.5 287.2,630.7 289.6,630.7 291.6,630.2 293.9,628.5 296.9,625.8 299.2,623.6 301.4,621.5 304.1,619.1 306.1,617.5 308.4,617.5 310.7,617.5 312.8,615.6 315.5,612.7 317.6,610.6 319.8,608.9 322.1,608.4 323.9,609.7 326.7,612.1 329.4,614.5 331.3,616.0 333.9,617.1 336.6,616.5 338.1,614.8 340.3,612.0 342.8,608.6 345.0,605.7 346.6,603.8 348.6,602.7 350.8,602.0 352.7,600.7 355.0,597.0 357.9,591.4 360.3,586.2 362.7,579.6 365.7,570.6 367.9,563.3 370.3,552.4 372.8,540.0 374.4,531.8 376.7,520.0 379.0,508.0 380.8,499.3 383.2,488.8 386.2,476.7 388.4,468.7 390.6,464.7 393.0,461.5 394.8,457.5 397.4,451.5 400.2,445.5 402.2,441.6 404.1,439.4 406.5,437.5 408.9,436.1 410.6,435.5 412.7,436.6 415.3,439.1 417.4,441.6 419.2,443.9 421.5,447.1 423.9,450.7 425.8,454.0 427.6,458.5 430.0,464.9 432.3,471.6 434.2,476.7 436.2,481.9 438.8,488.6 441.4,495.1 443.4,499.3 445.2,501.8 447.5,504.2 449.8,506.0 451.8,506.9 453.6,506.8 456.1,506.1 458.8,505.0 461.4,503.7 463.2,502.3 465.3,499.2 467.9,494.4 470.4,489.4 472.4,485.5 474.5,481.8 477.2,476.9 479.8,472.1 481.6,468.7 483.9,463.5 486.1,456.9 488.4,447.6 491.4,434.3 493.8,423.3 495.8,412.6 498.1,399.1 499.9,388.2 502.4,370.2 505.1,351.3 507.0,341.4 509.7,327.8 512.4,314.6 514.3,305.5 516.8,292.9 518.9,282.0 521.0,269.4 523.4,255.8 525.6,245.3 528.6,231.4 531.0,220.6 533.4,210.8 536.3,198.9 538.7,190.0 541.1,182.1 544.1,173.1 546.3,167.2 548.7,164.5 550.9,163.4 553.1,161.5 555.5,159.6 557.3,158.2 559.6,156.5 561.6,155.8 563.8,157.2 566.7,159.8 569.2,161.9 570.9,163.0 573.3,164.6 575.8,166.2 578.2,167.6 579.9,168.4 582.5,168.3 585.4,167.6 587.6,167.5 589.6,168.7 591.9,170.9 593.7,173.3 595.5,177.3 597.8,183.2 599.8,188.6 602.1,195.8 605.0,205.4 607.4,213.0 609.8,220.0 612.8,228.2 615.0,233.6 617.1,236.1 618.9,236.7 620.6,235.7 622.7,235.0 624.9,236.6 627.9,239.4 630.3,242.0 632.7,245.7 635.6,250.6 637.9,254.2 640.0,256.6 642.4,259.1 644.3,260.4 646.9,259.7 649.5,257.4 652.3,250.8 655.3,243.7 657.6,240.3 660.6,236.4 662.9,233.8 665.6,231.6 668.2,230.7 670.9,232.2 673.6,236.0 675.4,242.7 677.8,252.6 679.7,260.5 681.6,267.4 683.9,275.6 685.8,281.9 687.7,287.2 690.1,293.4 692.0,298.0 693.8,301.6 696.1,305.9 698.0,310.3 700.3,317.9 703.2,328.7 705.6,337.7 708.0,347.2 710.9,359.2 713.3,368.3 715.7,376.0 718.7,384.9 720.9,391.2 723.6,397.9 726.3,401.6 728.0,399.7 730.3,395.8 732.8,391.3 734.7,388.0 736.7,384.9 739.4,380.9 742.0,377.1 743.8,374.4 746.3,370.3 748.4,367.5 750.6,367.9 753.0,369.8 755.2,372.6 758.2,376.9 760.6,380.5 762.9,384.0 765.9,388.6 768.2,392.7 770.7,398.3 773.7,405.7 775.9,411.0 777.7,414.6 779.4,419.0 781.5,426.5 784.3,437.5 786.7,445.8 789.1,451.8 792.1,458.5 794.4,464.0 796.4,470.5 798.7,478.7 800.5,484.0 802.4,485.5 804.7,486.0 806.6,486.3 808.4,487.2 810.7,488.6 812.7,490.0 814.6,491.8 817.2,494.4 819.8,497.2 821.8,499.2 824.3,501.6 827.2,504.5 829.5,506.9 831.5,509.7 833.8,513.3 835.6,516.0 837.4,517.9 839.7,520.1 841.6,522.0 843.8,524.7 846.7,528.3 849.2,531.2 851.2,533.2 853.9,535.7 856.5,538.1 858.4,539.6 860.4,540.7 862.6,541.4 864.5,541.1 866.8,538.7 869.8,534.7 872.1,531.2 874.1,527.4 876.4,522.3 878.2,518.0 880.0,513.2 882.3,506.9 884.3,501.9 886.5,497.2 889.4,491.4 891.9,486.6 893.9,482.7 896.5,477.4 899.1,472.1 901.1,468.3 903.5,463.8 906.4,458.6 908.7,454.5 911.0,450.3 914.0,445.1 916.3,440.8 918.7,436.1 921.6,430.1 924.0,425.5 926.3,421.4 929.3,416.4 931.6,412.6 934.0,409.2 936.9,405.2 939.2,401.9 941.2,398.5 943.7,394.1 945.6,390.3 947.5,385.6 949.9,379.5 951.8,375.0 953.7,371.6 956.0,367.8 957.9,365.2 959.8,363.5 962.2,361.9 964.0,361.0 966.2,361.0 968.4,362.0 970.3,364.2 972.7,367.7 974.7,370.5 976.6,373.3 978.9,376.9 980.8,379.7 982.6,382.5 984.9,386.0 986.9,388.8 989.2,391.5 992.2,394.8 994.5,397.2 996.5,399.0 998.8,401.1 1000.6,402.5 1002.9,404.1 1005.2,405.4 1007.0,406.2 1009.4,407.0 1011.3,407.2 1013.2,406.1 1015.5,404.2 1017.4,402.4 1019.3,400.3 1021.7,397.3 1023.5,394.7 1025.8,389.3 1028.1,383.5 1029.9,380.0 1032.3,375.7 1034.2,372.0 1036.1,367.8 1038.4,362.4 1040.3,358.3 1042.2,354.7 1044.5,350.6 1046.4,347.6 1048.3,345.4 1050.7,343.0 1052.5,341.5 1054.8,340.4 1057.0,340.2 1059.0,342.3 1061.1,345.3 1062.9,348.3 1065.2,352.4 1067.2,356.0 1069.3,359.9 1072.0,365.0 1074.0,369.7 1076.7,380.0 1079.4,391.0 1081.2,398.0 1083.6,406.9 1085.5,414.0 1087.4,421.1 1089.7,430.0 1091.6,436.9 1093.6,443.7 1096.1,451.9 1097.7,457.0" fill="none" stroke="#4B1A82" stroke-width="1"/>
<polyline points="62.3,666.6 63.3,672.1 65.0,680.0 66.8,685.7 69.5,694.2 72.3,702.8 74.4,708.9 76.7,715.5 79.3,722.7 81.6,727.6 83.2,729.2 85.3,730.8 87.7,732.1 90.0,733.3 91.7,734.1 93.4,734.9 95.7,735.9 98.1,736.8 100.3,737.5 101.8,737.7 104.8,735.6 107.6,733.4 109.4,733.5 111.9,733.9 114.4,734.7 116.3,735.6 118.6,738.2 121.2,742.0 123.5,744.9 125.3,746.8 127.8,749.1 130.3,751.2 132.2,752.2 134.1,751.7 136.6,750.4 139.0,748.8 140.8,747.8 143.0,746.9 145.5,746.0 148.0,745.7 149.5,745.9 151.7,746.4 154.2,747.1 156.7,747.8 159.0,748.6 160.7,749.3 162.6,750.6 164.9,752.6 167.4,754.8 169.6,756.7 171.4,757.7 173.2,757.8 175.4,757.3 177.9,756.5 180.2,755.8 182.0,755.4 183.6,755.4 185.8,755.5 188.3,755.6 190.7,755.6 192.8,755.3 194.3,754.7 196.8,750.8 199.5,744.6 202.0,739.4 203.5,737.1 205.6,734.1 208.0,730.7 210.4,727.2 212.5,723.9 214.1,721.0 216.3,715.4 219.0,707.4 221.5,699.4 223.3,693.6 225.9,682.5 228.2,672.0 230.5,661.9 232.8,651.9 235.4,640.9 238.2,630.5 240.4,625.8 243.4,620.7 245.8,617.5 248.2,616.7 251.2,616.9 253.4,617.5 255.5,619.6 257.3,622.9 259.0,629.6 261.0,636.6 262.7,639.1 265.1,642.0 267.7,644.6 269.5,645.8 271.7,644.5 274.3,641.7 276.3,639.7 278.2,639.9 280.5,640.5 282.4,639.7 284.7,634.9 287.6,627.3 290.0,621.3 292.4,615.9 295.3,609.3 297.7,604.5 299.5,601.9 301.8,599.0 304.1,596.6 305.8,595.4 308.0,596.4 310.7,598.8 313.0,600.7 314.8,601.3 317.3,601.7 319.7,602.5 321.4,603.8 324.2,612.0 326.7,621.3 329.3,629.7 332.0,636.6 334.7,637.2 337.4,635.0 339.2,630.4 341.6,623.2 343.5,616.8 345.4,608.9 347.8,598.5 349.6,590.8 351.9,583.3 354.0,575.0 355.9,558.4 357.9,540.5 360.4,525.1 363.2,510.0 365.3,501.0 368.1,489.9 370.5,480.0 372.3,470.8 374.8,457.9 377.3,445.3 379.3,437.0 381.0,433.1 383.4,429.3 385.9,425.9 388.3,423.2 390.0,421.5 392.0,420.4 394.4,419.9 396.7,419.9 398.4,420.5 401.1,426.0 403.7,432.4 406.0,435.2 409.0,438.5 411.3,441.6 414.0,449.5 416.5,458.0 419.3,466.4 422.3,475.5 424.5,483.0 427.4,492.9 429.7,500.8 431.6,508.2 434.0,517.2 435.8,523.7 437.8,528.7 440.2,534.0 441.9,537.4 443.1,538.5 444.2,538.2 446.7,537.2 449.5,534.4 451.3,528.9 453.7,520.4 455.6,513.0 457.5,504.3 459.9,492.8 461.7,484.0 464.2,472.4 466.4,462.0 467.8,454.9 469.4,447.7 471.1,440.5 473.5,431.0 475.5,424.8 477.3,423.4 479.6,423.5 481.6,423.0 484.0,420.3 487.0,416.2 489.2,412.6 491.2,407.3 493.0,399.0 495.5,377.4 498.0,353.0 500.5,328.5 502.8,305.5 504.3,291.7 505.8,278.5 508.1,259.0 510.5,237.4 513.2,210.5 515.8,185.5 517.4,174.8 518.9,167.0 521.1,158.0 523.4,150.7 526.2,151.0 528.8,153.0 530.3,155.3 531.8,158.3 534.4,163.0 537.2,168.0 539.1,170.8 541.4,174.1 543.3,176.4 546.0,178.1 548.6,178.7 550.9,176.3 553.2,172.6 555.5,166.2 557.8,159.6 559.5,155.6 561.6,152.2 563.2,150.9 565.7,149.2 568.2,148.0 570.0,147.6 572.2,149.4 574.8,152.7 576.9,156.0 578.8,160.5 581.1,166.7 583.0,171.8 585.3,176.7 588.3,182.9 590.6,188.6 592.5,196.4 594.8,207.0 596.7,216.0 599.0,226.2 602.0,239.5 604.4,249.7 606.9,258.9 609.9,269.7 612.0,277.0 613.7,282.3 615.0,285.0 616.4,284.2 618.0,281.0 619.8,274.9 622.3,265.8 624.2,258.8 626.5,249.9 628.8,242.0 630.6,238.7 633.1,235.2 634.9,232.9 637.2,230.7 639.5,229.8 642.0,233.1 644.6,237.6 647.2,243.6 649.9,248.3 652.5,245.2 655.3,240.6 657.5,238.0 660.5,234.7 662.9,232.3 665.4,230.3 668.4,228.2 670.5,227.0 672.2,226.8 673.6,230.0 675.9,247.1 678.2,266.6 680.1,282.9 682.0,298.5 683.8,311.7 685.8,325.5 687.6,336.8 690.0,351.8 691.9,363.7 693.9,375.3 696.3,389.3 698.0,398.8 699.2,404.8 700.3,408.0 702.7,408.8 705.6,408.7 707.5,408.4 710.1,407.9 712.8,407.2 714.8,406.5 717.3,405.0 720.2,402.7 722.4,400.3 724.3,396.7 726.6,391.5 728.5,386.6 730.8,379.5 733.8,369.7 736.2,362.2 738.6,356.1 741.6,349.1 743.8,343.9 745.8,336.8 747.6,332.4 750.3,338.4 753.0,346.9 755.3,356.2 757.6,366.8 759.9,381.6 762.2,397.0 764.4,409.4 766.8,423.0 768.6,436.7 771.1,455.3 773.0,468.7 774.8,477.1 777.1,485.6 779.1,491.6 781.4,496.7 784.3,502.2 786.7,505.3 789.0,505.1 792.0,503.3 794.4,500.8 796.3,497.3 798.9,491.8 801.5,486.2 803.5,482.4 805.4,479.7 807.9,476.6 810.2,474.2 811.9,473.3 814.7,478.2 817.3,485.5 819.4,490.9 822.2,498.2 824.4,504.5 826.3,511.8 828.6,521.6 830.5,530.0 832.7,540.7 835.5,554.4 837.8,563.3 840.0,565.4 842.7,565.3 844.7,564.8 846.9,564.3 849.2,561.8 851.4,555.6 854.5,546.2 856.9,538.9 859.0,532.9 861.6,525.7 863.7,520.0 865.8,514.4 868.4,507.5 870.5,501.9 872.8,495.8 875.8,488.0 878.2,482.0 880.6,476.4 883.5,469.8 885.8,465.2 887.8,462.6 890.1,460.1 891.9,458.4 893.7,457.0 896.0,455.5 898.0,453.8 900.3,450.6 903.2,446.1 905.6,442.3 908.0,438.7 911.0,434.0 913.3,430.0 915.4,425.2 917.9,418.8 919.9,413.5 921.7,407.8 924.0,400.6 925.9,395.0 928.1,390.0 931.0,384.1 933.4,379.7 935.8,376.1 938.8,372.0 941.1,369.0 943.1,367.0 945.4,364.9 947.2,362.9 949.1,359.7 951.5,355.4 953.3,352.2 956.0,348.5 958.6,346.0 960.9,347.0 963.2,349.0 965.9,351.6 968.5,355.2 970.8,362.2 973.1,370.5 975.5,381.6 977.9,393.0 979.9,402.7 981.8,412.0 984.2,420.8 986.6,428.6 988.9,433.0 991.1,436.2 993.0,437.5 995.0,437.7 997.6,435.2 1000.3,431.6 1002.7,425.7 1004.9,419.4 1006.5,414.6 1008.0,409.0 1009.9,399.2 1012.3,388.0 1013.9,382.3 1016.3,374.5 1018.7,366.8 1020.5,361.3 1022.5,355.3 1024.9,348.8 1026.6,344.5 1028.6,342.1 1030.4,341.2 1032.2,341.6 1034.2,341.8 1036.0,340.1 1038.4,337.4 1040.3,335.4 1043.0,333.6 1045.6,332.6 1047.6,333.7 1049.5,335.4 1051.8,337.4 1054.0,339.2 1056.0,339.5 1057.9,340.0 1059.5,342.7 1061.1,346.8 1063.3,354.4 1065.6,363.6 1067.9,376.7 1070.2,391.0 1072.5,406.4 1074.8,421.6 1077.2,434.6 1079.4,446.0 1080.6,451.6 1081.7,457.0 1083.4,466.8 1085.5,478.2 1087.3,487.6 1089.7,500.0 1091.6,508.7 1093.6,513.7 1096.1,518.2 1097.7,520.9" fill="none" stroke="#FF8000" stroke-width="1"/></g><rect x="488" y="52" width="9" height="1" fill="#FF80FF" shape-rendering="crispEdges"/><path d="M495.5 50 L498 52.5 L495.5 55 Z" fill="#8A8A8A" stroke="none"/><path d="M108 788.5 H117" fill="none" stroke="#B0B0B0" stroke-width="1" shape-rendering="crispEdges"/><path d="M116 786 L118.5 788.5 L116 791 Z" fill="#8A8A8A"/><ellipse cx="125.5" cy="796.4" rx="15.8" ry="12.2" fill="none" stroke="#FA3036" stroke-width="3.4"/><ellipse cx="175" cy="779.8" rx="12.5" ry="9.6" fill="none" stroke="#FA3036" stroke-width="3.4"/><ellipse cx="831.1" cy="600.6" rx="21.8" ry="16.3" fill="none" stroke="#FA3036" stroke-width="3.4"/><ellipse cx="1089.7" cy="534" rx="26.2" ry="23.5" fill="none" stroke="#FA3036" stroke-width="3.4"/><text x="56.5" y="755" font-family="Liberation Serif, serif" font-size="13" fill="#505050" text-anchor="end" >14</text><text x="56.5" y="658" font-family="Liberation Serif, serif" font-size="13" fill="#505050" text-anchor="end" >15</text><text x="56.5" y="560" font-family="Liberation Serif, serif" font-size="13" fill="#505050" text-anchor="end" >16</text><text x="56.5" y="462" font-family="Liberation Serif, serif" font-size="13" fill="#505050" text-anchor="end" >17</text><text x="56.5" y="364" font-family="Liberation Serif, serif" font-size="13" fill="#505050" text-anchor="end" >18</text><text x="56.5" y="266" font-family="Liberation Serif, serif" font-size="13" fill="#505050" text-anchor="end" >19</text><text x="56.5" y="168" font-family="Liberation Serif, serif" font-size="13" fill="#505050" text-anchor="end" >20</text><text x="56.5" y="70" font-family="Liberation Serif, serif" font-size="13" fill="#505050" text-anchor="end" >21</text><text x="451.5" y="57" font-family="Liberation Serif, serif" font-size="13.8" fill="#0A2460" text-anchor="start" textLength="33.5" lengthAdjust="spacing">21.13</text><text x="73.3" y="792.7" font-family="Liberation Serif, serif" font-size="13.8" fill="#0A2460" text-anchor="start" textLength="33.5" lengthAdjust="spacing">13.61</text><text x="64.5" y="339" font-family="Liberation Sans, sans-serif" font-size="11" fill="#800080" text-anchor="start" letter-spacing="0.25">61.8%</text><text x="1172" y="339" font-family="Liberation Sans, sans-serif" font-size="11" fill="#800080" text-anchor="end" letter-spacing="0.15">18.31</text><text x="64.5" y="424" font-family="Liberation Sans, sans-serif" font-size="11" fill="#800080" text-anchor="start" letter-spacing="0.25">50%</text><text x="1172" y="424" font-family="Liberation Sans, sans-serif" font-size="11" fill="#800080" text-anchor="end" letter-spacing="0.15">17.44</text><text x="64.5" y="509" font-family="Liberation Sans, sans-serif" font-size="11" fill="#800080" text-anchor="start" letter-spacing="0.25">38.2%</text><text x="1172" y="509" font-family="Liberation Sans, sans-serif" font-size="11" fill="#800080" text-anchor="end" letter-spacing="0.15">16.56</text><text x="62" y="826.5" font-family="Liberation Serif, serif" font-size="12" fill="#555555" text-anchor="start" >201511</text><text x="137" y="826.5" font-family="Liberation Serif, serif" font-size="12" fill="#555555" text-anchor="start" >201601</text><text x="202" y="826.5" font-family="Liberation Serif, serif" font-size="12" fill="#555555" text-anchor="start" >02</text><text x="317" y="826.5" font-family="Liberation Serif, serif" font-size="12" fill="#555555" text-anchor="start" >04</text><text x="432" y="826.5" font-family="Liberation Serif, serif" font-size="12" fill="#555555" text-anchor="start" >06</text><text x="546" y="826.5" font-family="Liberation Serif, serif" font-size="12" fill="#555555" text-anchor="start" >08</text><text x="666" y="826.5" font-family="Liberation Serif, serif" font-size="12" fill="#555555" text-anchor="start" >10</text><text x="780" y="826.5" font-family="Liberation Serif, serif" font-size="12" fill="#555555" text-anchor="start" >12</text><text x="887" y="826.5" font-family="Liberation Serif, serif" font-size="12" fill="#555555" text-anchor="start" >201702</text><text x="951" y="826.5" font-family="Liberation Serif, serif" font-size="12" fill="#555555" text-anchor="start" >03</text><text x="1063" y="826.5" font-family="Liberation Serif, serif" font-size="12" fill="#555555" text-anchor="start" >05</text><text x="32" y="826.5" font-family="Liberation Sans, Noto Sans CJK SC, sans-serif" font-size="12" fill="#555555" text-anchor="start" >日线</text></svg>
<div class="t title">现货白银<span class="m">(AG)&lt;</span>日线<span class="m">&gt;</span></div>
<div class="t lnk" style="left:1013px">商品叠加</div>
<div class="t lnk" style="left:1081px">周期</div>
<svg width="52" height="16" viewBox="1125 1 52 16" style="position:absolute;left:1125px;top:1px" shape-rendering="crispEdges">
<rect x="1126.5" y="2.5" width="15" height="13" fill="none" stroke="#0A5A8C"/>
<rect x="1143.5" y="2.5" width="15" height="13" fill="none" stroke="#0A5A8C"/>
<rect x="1160.5" y="2.5" width="15" height="13" fill="none" stroke="#0A5A8C"/>
<path d="M1128.5 8.5 L1132.5 4.5 V6.5 H1139.5 V10.5 H1132.5 V12.5 Z" fill="none" stroke="#0A5A8C" shape-rendering="auto"/>
<path d="M1156.5 8.5 L1152.5 4.5 V6.5 H1145.5 V10.5 H1152.5 V12.5 Z" fill="none" stroke="#0A5A8C" shape-rendering="auto"/>
<path d="M1170.5 3 V15 M1161 10.5 H1170" fill="none" stroke="#0A5A8C"/>
<rect x="1172" y="5" width="2" height="1" fill="#0A5A8C"/><rect x="1172" y="7" width="2" height="1" fill="#0A5A8C"/><rect x="1172" y="9" width="2" height="1" fill="#0A5A8C"/><rect x="1172" y="11" width="2" height="1" fill="#0A5A8C"/>
</svg>
<div class="t lg" style="left:62px;color:#707070">K</div>
<div class="t lg" style="left:79px;color:#102A66">MA100:17.3530</div>
<div class="t lg" style="left:171px;color:#FF8000">MA10:16.3545</div>
<div class="t lg" style="left:256px;color:#4B1A82">MA20:17.0070</div>
<div class="t lg" style="left:341px;color:#0000FF">MA40:17.5355</div>
<div class="t lg" style="left:426px;color:#FF80FF">MA60:17.5782</div>
</body></html>
